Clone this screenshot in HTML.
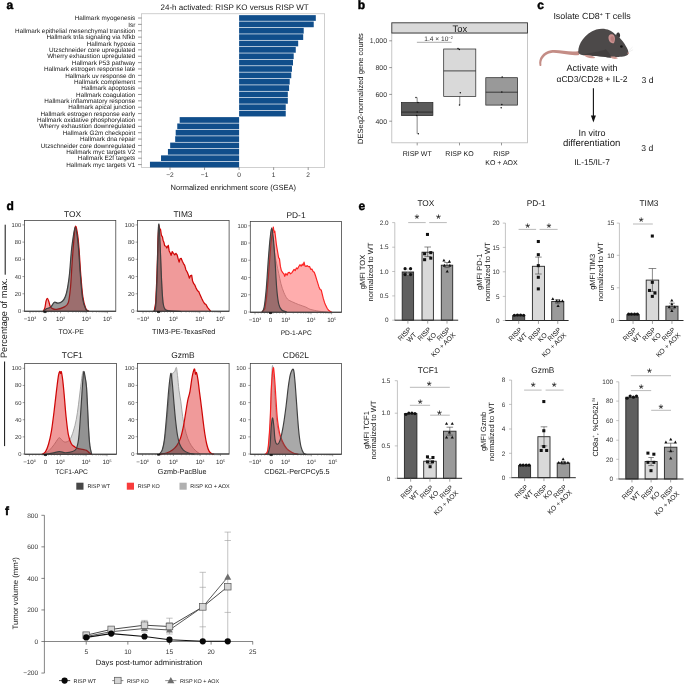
<!DOCTYPE html>
<html lang="en"><head><meta charset="utf-8"><title>Figure</title>
<style>
html,body{margin:0;padding:0;background:#fff;}
body{width:685px;height:684px;overflow:hidden;}
svg{display:block;font-family:'Liberation Sans', Arial, sans-serif;text-rendering:geometricPrecision;will-change:transform;transform:translateZ(0);}
</style></head><body>
<svg width="685" height="684" viewBox="0 0 685 684">
<rect x="0" y="0" width="685" height="684" fill="#fff"/>
<text x="9.80" y="8.90" font-size="12" text-anchor="middle" fill="#000" font-weight="bold" stroke="#000" stroke-width="0.45">a</text>
<rect x="141.60" y="13.80" width="183.10" height="153.60" fill="#fff" stroke="#b0b0b0" stroke-width="0.6"/>
<text x="135.30" y="20.15" font-size="6.35" text-anchor="end" fill="#161616" font-weight="normal">Hallmark myogenesis</text>
<line x1="138.00" y1="18.00" x2="141.60" y2="18.00" stroke="#333" stroke-width="0.5"/>
<rect x="239.10" y="15.15" width="76.70" height="5.70" fill="#104E8B" stroke="none" stroke-width="0.6"/>
<text x="135.30" y="26.52" font-size="6.35" text-anchor="end" fill="#161616" font-weight="normal">Isr</text>
<line x1="138.00" y1="24.37" x2="141.60" y2="24.37" stroke="#333" stroke-width="0.5"/>
<rect x="239.10" y="21.52" width="74.63" height="5.70" fill="#104E8B" stroke="none" stroke-width="0.6"/>
<text x="135.30" y="32.90" font-size="6.35" text-anchor="end" fill="#161616" font-weight="normal">Hallmark epithelial mesenchymal transition</text>
<line x1="138.00" y1="30.75" x2="141.60" y2="30.75" stroke="#333" stroke-width="0.5"/>
<rect x="239.10" y="27.90" width="64.61" height="5.70" fill="#104E8B" stroke="none" stroke-width="0.6"/>
<text x="135.30" y="39.27" font-size="6.35" text-anchor="end" fill="#161616" font-weight="normal">Hallmark tnfa signaling via Nfkb</text>
<line x1="138.00" y1="37.12" x2="141.60" y2="37.12" stroke="#333" stroke-width="0.5"/>
<rect x="239.10" y="34.27" width="64.09" height="5.70" fill="#104E8B" stroke="none" stroke-width="0.6"/>
<text x="135.30" y="45.64" font-size="6.35" text-anchor="end" fill="#161616" font-weight="normal">Hallmark hypoxia</text>
<line x1="138.00" y1="43.49" x2="141.60" y2="43.49" stroke="#333" stroke-width="0.5"/>
<rect x="239.10" y="40.64" width="59.08" height="5.70" fill="#104E8B" stroke="none" stroke-width="0.6"/>
<text x="135.30" y="52.02" font-size="6.35" text-anchor="end" fill="#161616" font-weight="normal">Utzschneider core upregulated</text>
<line x1="138.00" y1="49.87" x2="141.60" y2="49.87" stroke="#333" stroke-width="0.5"/>
<rect x="239.10" y="47.02" width="56.66" height="5.70" fill="#104E8B" stroke="none" stroke-width="0.6"/>
<text x="135.30" y="58.39" font-size="6.35" text-anchor="end" fill="#161616" font-weight="normal">Wherry exhaustion upregulated</text>
<line x1="138.00" y1="56.24" x2="141.60" y2="56.24" stroke="#333" stroke-width="0.5"/>
<rect x="239.10" y="53.39" width="54.59" height="5.70" fill="#104E8B" stroke="none" stroke-width="0.6"/>
<text x="135.30" y="64.76" font-size="6.35" text-anchor="end" fill="#161616" font-weight="normal">Hallmark P53 pathway</text>
<line x1="138.00" y1="62.61" x2="141.60" y2="62.61" stroke="#333" stroke-width="0.5"/>
<rect x="239.10" y="59.76" width="53.90" height="5.70" fill="#104E8B" stroke="none" stroke-width="0.6"/>
<text x="135.30" y="71.13" font-size="6.35" text-anchor="end" fill="#161616" font-weight="normal">Hallmark estrogen response late</text>
<line x1="138.00" y1="68.98" x2="141.60" y2="68.98" stroke="#333" stroke-width="0.5"/>
<rect x="239.10" y="66.13" width="52.86" height="5.70" fill="#104E8B" stroke="none" stroke-width="0.6"/>
<text x="135.30" y="77.51" font-size="6.35" text-anchor="end" fill="#161616" font-weight="normal">Hallmark uv response dn</text>
<line x1="138.00" y1="75.36" x2="141.60" y2="75.36" stroke="#333" stroke-width="0.5"/>
<rect x="239.10" y="72.51" width="52.17" height="5.70" fill="#104E8B" stroke="none" stroke-width="0.6"/>
<text x="135.30" y="83.88" font-size="6.35" text-anchor="end" fill="#161616" font-weight="normal">Hallmark complement</text>
<line x1="138.00" y1="81.73" x2="141.60" y2="81.73" stroke="#333" stroke-width="0.5"/>
<rect x="239.10" y="78.88" width="50.62" height="5.70" fill="#104E8B" stroke="none" stroke-width="0.6"/>
<text x="135.30" y="90.25" font-size="6.35" text-anchor="end" fill="#161616" font-weight="normal">Hallmark apoptosis</text>
<line x1="138.00" y1="88.10" x2="141.60" y2="88.10" stroke="#333" stroke-width="0.5"/>
<rect x="239.10" y="85.25" width="49.99" height="5.70" fill="#104E8B" stroke="none" stroke-width="0.6"/>
<text x="135.30" y="96.63" font-size="6.35" text-anchor="end" fill="#161616" font-weight="normal">Hallmark coagulation</text>
<line x1="138.00" y1="94.48" x2="141.60" y2="94.48" stroke="#333" stroke-width="0.5"/>
<rect x="239.10" y="91.63" width="48.72" height="5.70" fill="#104E8B" stroke="none" stroke-width="0.6"/>
<text x="135.30" y="103.00" font-size="6.35" text-anchor="end" fill="#161616" font-weight="normal">Hallmark inflammatory response</text>
<line x1="138.00" y1="100.85" x2="141.60" y2="100.85" stroke="#333" stroke-width="0.5"/>
<rect x="239.10" y="98.00" width="48.72" height="5.70" fill="#104E8B" stroke="none" stroke-width="0.6"/>
<text x="135.30" y="109.37" font-size="6.35" text-anchor="end" fill="#161616" font-weight="normal">Hallmark apical junction</text>
<line x1="138.00" y1="107.22" x2="141.60" y2="107.22" stroke="#333" stroke-width="0.5"/>
<rect x="239.10" y="104.37" width="46.64" height="5.70" fill="#104E8B" stroke="none" stroke-width="0.6"/>
<text x="135.30" y="115.75" font-size="6.35" text-anchor="end" fill="#161616" font-weight="normal">Hallmark estrogen response early</text>
<line x1="138.00" y1="113.59" x2="141.60" y2="113.59" stroke="#333" stroke-width="0.5"/>
<rect x="239.10" y="110.75" width="46.64" height="5.70" fill="#104E8B" stroke="none" stroke-width="0.6"/>
<text x="135.30" y="122.12" font-size="6.35" text-anchor="end" fill="#161616" font-weight="normal">Hallmark oxidative phosphorylation</text>
<line x1="138.00" y1="119.97" x2="141.60" y2="119.97" stroke="#333" stroke-width="0.5"/>
<rect x="179.67" y="117.12" width="59.43" height="5.70" fill="#104E8B" stroke="none" stroke-width="0.6"/>
<text x="135.30" y="128.49" font-size="6.35" text-anchor="end" fill="#161616" font-weight="normal">Wherry exhaustion downregulated</text>
<line x1="138.00" y1="126.34" x2="141.60" y2="126.34" stroke="#333" stroke-width="0.5"/>
<rect x="177.26" y="123.49" width="61.84" height="5.70" fill="#104E8B" stroke="none" stroke-width="0.6"/>
<text x="135.30" y="134.86" font-size="6.35" text-anchor="end" fill="#161616" font-weight="normal">Hallmark G2m checkpoint</text>
<line x1="138.00" y1="132.71" x2="141.60" y2="132.71" stroke="#333" stroke-width="0.5"/>
<rect x="175.70" y="129.86" width="63.40" height="5.70" fill="#104E8B" stroke="none" stroke-width="0.6"/>
<text x="135.30" y="141.24" font-size="6.35" text-anchor="end" fill="#161616" font-weight="normal">Hallmark dna repair</text>
<line x1="138.00" y1="139.09" x2="141.60" y2="139.09" stroke="#333" stroke-width="0.5"/>
<rect x="175.18" y="136.24" width="63.92" height="5.70" fill="#104E8B" stroke="none" stroke-width="0.6"/>
<text x="135.30" y="147.61" font-size="6.35" text-anchor="end" fill="#161616" font-weight="normal">Utzschneider core downregulated</text>
<line x1="138.00" y1="145.46" x2="141.60" y2="145.46" stroke="#333" stroke-width="0.5"/>
<rect x="170.17" y="142.61" width="68.93" height="5.70" fill="#104E8B" stroke="none" stroke-width="0.6"/>
<text x="135.30" y="153.98" font-size="6.35" text-anchor="end" fill="#161616" font-weight="normal">Hallmark myc targets V2</text>
<line x1="138.00" y1="151.83" x2="141.60" y2="151.83" stroke="#333" stroke-width="0.5"/>
<rect x="167.93" y="148.98" width="71.17" height="5.70" fill="#104E8B" stroke="none" stroke-width="0.6"/>
<text x="135.30" y="160.36" font-size="6.35" text-anchor="end" fill="#161616" font-weight="normal">Hallmark E2f targets</text>
<line x1="138.00" y1="158.21" x2="141.60" y2="158.21" stroke="#333" stroke-width="0.5"/>
<rect x="161.02" y="155.36" width="78.08" height="5.70" fill="#104E8B" stroke="none" stroke-width="0.6"/>
<text x="135.30" y="166.73" font-size="6.35" text-anchor="end" fill="#161616" font-weight="normal">Hallmark myc targets V1</text>
<line x1="138.00" y1="164.58" x2="141.60" y2="164.58" stroke="#333" stroke-width="0.5"/>
<rect x="149.96" y="161.73" width="89.14" height="5.70" fill="#104E8B" stroke="none" stroke-width="0.6"/>
<line x1="170.00" y1="167.40" x2="170.00" y2="170.00" stroke="#333" stroke-width="0.5"/>
<text x="170.00" y="177.40" font-size="6.6" text-anchor="middle" fill="#333" font-weight="normal">−2</text>
<line x1="204.55" y1="167.40" x2="204.55" y2="170.00" stroke="#333" stroke-width="0.5"/>
<text x="204.55" y="177.40" font-size="6.6" text-anchor="middle" fill="#333" font-weight="normal">−1</text>
<line x1="239.10" y1="167.40" x2="239.10" y2="170.00" stroke="#333" stroke-width="0.5"/>
<text x="239.10" y="177.40" font-size="6.6" text-anchor="middle" fill="#333" font-weight="normal">0</text>
<line x1="273.65" y1="167.40" x2="273.65" y2="170.00" stroke="#333" stroke-width="0.5"/>
<text x="273.65" y="177.40" font-size="6.6" text-anchor="middle" fill="#333" font-weight="normal">1</text>
<line x1="308.20" y1="167.40" x2="308.20" y2="170.00" stroke="#333" stroke-width="0.5"/>
<text x="308.20" y="177.40" font-size="6.6" text-anchor="middle" fill="#333" font-weight="normal">2</text>
<text x="234.60" y="9.60" font-size="8.0" text-anchor="middle" fill="#161616" font-weight="normal">24-h activated: RISP KO versus RISP WT</text>
<text x="233.30" y="189.60" font-size="7.5" text-anchor="middle" fill="#161616" font-weight="normal">Normalized enrichment score (GSEA)</text>
<text x="361.40" y="8.90" font-size="12" text-anchor="middle" fill="#000" font-weight="bold" stroke="#000" stroke-width="0.45">b</text>
<rect x="391.80" y="33.00" width="135.70" height="109.80" fill="#fff" stroke="#b8b8b8" stroke-width="0.8"/>
<rect x="391.80" y="22.80" width="135.70" height="10.20" fill="#D9D9D9" stroke="#333" stroke-width="0.9"/>
<text x="459.80" y="32.20" font-size="9.4" text-anchor="middle" fill="#161616" font-weight="normal">Tox</text>
<line x1="389.20" y1="40.80" x2="391.80" y2="40.80" stroke="#333" stroke-width="0.5"/>
<text x="387.00" y="43.20" font-size="6.9" text-anchor="end" fill="#333" font-weight="normal">1,000</text>
<line x1="389.20" y1="67.60" x2="391.80" y2="67.60" stroke="#333" stroke-width="0.5"/>
<text x="387.00" y="70.00" font-size="6.9" text-anchor="end" fill="#333" font-weight="normal">800</text>
<line x1="389.20" y1="94.40" x2="391.80" y2="94.40" stroke="#333" stroke-width="0.5"/>
<text x="387.00" y="96.80" font-size="6.9" text-anchor="end" fill="#333" font-weight="normal">600</text>
<line x1="389.20" y1="121.20" x2="391.80" y2="121.20" stroke="#333" stroke-width="0.5"/>
<text x="387.00" y="123.60" font-size="6.9" text-anchor="end" fill="#333" font-weight="normal">400</text>
<line x1="417.15" y1="97.50" x2="417.15" y2="133.70" stroke="#222" stroke-width="0.55"/>
<rect x="401.40" y="102.50" width="31.50" height="13.10" fill="#5b5b5b" stroke="#222" stroke-width="0.7"/>
<line x1="401.40" y1="112.10" x2="432.90" y2="112.10" stroke="#222" stroke-width="0.8"/>
<circle cx="416.00" cy="97.50" r="0.75" fill="#111"/>
<circle cx="418.00" cy="102.60" r="0.75" fill="#111"/>
<circle cx="417.20" cy="112.00" r="0.75" fill="#111"/>
<circle cx="416.60" cy="115.40" r="0.75" fill="#111"/>
<circle cx="418.30" cy="133.70" r="0.75" fill="#111"/>
<line x1="459.75" y1="49.00" x2="459.75" y2="105.10" stroke="#222" stroke-width="0.55"/>
<rect x="443.70" y="49.00" width="32.10" height="47.40" fill="#D9D9D9" stroke="#222" stroke-width="0.7"/>
<line x1="443.70" y1="70.90" x2="475.80" y2="70.90" stroke="#222" stroke-width="0.8"/>
<circle cx="458.00" cy="48.60" r="0.75" fill="#111"/>
<circle cx="459.30" cy="49.60" r="0.75" fill="#111"/>
<circle cx="460.30" cy="92.80" r="0.75" fill="#111"/>
<circle cx="459.50" cy="105.10" r="0.75" fill="#111"/>
<line x1="501.70" y1="77.70" x2="501.70" y2="105.10" stroke="#222" stroke-width="0.55"/>
<rect x="485.80" y="77.70" width="31.80" height="27.40" fill="#999999" stroke="#222" stroke-width="0.7"/>
<line x1="485.80" y1="92.20" x2="517.60" y2="92.20" stroke="#222" stroke-width="0.8"/>
<circle cx="502.20" cy="77.00" r="0.75" fill="#111"/>
<circle cx="501.80" cy="92.00" r="0.75" fill="#111"/>
<circle cx="501.80" cy="104.50" r="0.75" fill="#111"/>
<circle cx="501.20" cy="107.80" r="0.75" fill="#111"/>
<line x1="416.90" y1="42.30" x2="451.60" y2="42.30" stroke="#555" stroke-width="0.5"/>
<text x="438.6" y="40.8" font-size="6.6" text-anchor="middle" fill="#333">1.4 × 10<tspan dy="-2.2" font-size="4">−2</tspan></text>
<line x1="417.20" y1="142.80" x2="417.20" y2="145.40" stroke="#333" stroke-width="0.5"/>
<text x="417.20" y="156.00" font-size="7.0" text-anchor="middle" fill="#161616" font-weight="normal">RISP WT</text>
<line x1="459.50" y1="142.80" x2="459.50" y2="145.40" stroke="#333" stroke-width="0.5"/>
<text x="459.50" y="156.00" font-size="7.0" text-anchor="middle" fill="#161616" font-weight="normal">RISP KO</text>
<line x1="501.50" y1="142.80" x2="501.50" y2="145.40" stroke="#333" stroke-width="0.5"/>
<text x="501.50" y="156.00" font-size="7.0" text-anchor="middle" fill="#161616" font-weight="normal">RISP</text>
<text x="501.50" y="164.90" font-size="7.0" text-anchor="middle" fill="#161616" font-weight="normal">KO + AOX</text>
<text x="362.90" y="88.60" font-size="7.55" text-anchor="middle" fill="#161616" font-weight="normal" transform="rotate(-90 362.90 88.60)">DESeq2-normalized gene counts</text>
<text x="540.60" y="9.00" font-size="12" text-anchor="middle" fill="#000" font-weight="bold" stroke="#000" stroke-width="0.45">c</text>
<text x="592" y="19.4" font-size="8.9" text-anchor="middle" fill="#161616">Isolate CD8<tspan dy="-3" font-size="5.2">+</tspan><tspan dy="3"> T cells</tspan></text>
<text x="592.00" y="71.40" font-size="9.1" text-anchor="middle" fill="#161616" font-weight="normal">Activate with</text>
<text x="592.00" y="82.00" font-size="8.6" text-anchor="middle" fill="#161616" font-weight="normal">αCD3/CD28 + IL-2</text>
<text x="647.60" y="83.00" font-size="8.6" text-anchor="middle" fill="#161616" font-weight="normal">3 d</text>
<line x1="593.40" y1="88.30" x2="593.40" y2="117.00" stroke="#111" stroke-width="1.1"/>
<path d="M590.9 115.6 L595.9 115.6 L593.4 122.4 Z" fill="#111"/>
<text x="592.00" y="136.40" font-size="9.0" text-anchor="middle" fill="#161616" font-weight="normal">In vitro</text>
<text x="591.60" y="146.30" font-size="9.6" text-anchor="middle" fill="#161616" font-weight="normal">differentiation</text>
<text x="647.20" y="150.50" font-size="8.6" text-anchor="middle" fill="#161616" font-weight="normal">3 d</text>
<text x="592.00" y="165.20" font-size="8.3" text-anchor="middle" fill="#161616" font-weight="normal">IL-15/IL-7</text>
<g transform="translate(535 22) scale(0.14599)">
<path d="M302 198 C 240 212, 170 186, 108 194 C 55 202, 20 250, 31 298 C 33 304, 44 302, 44 296 C 38 256, 66 220, 112 212 C 170 206, 240 236, 302 226 Z" fill="#c48d86"/>
<path d="M556 100 C 552 78, 566 66, 576 74 C 586 84, 584 100, 578 108 Z" fill="#3b3838"/>
<path d="M296 206 C 296 150, 340 80, 420 52 C 470 36, 520 52, 548 84 C 580 100, 610 140, 630 178 C 640 196, 644 212, 636 224 C 624 236, 590 238, 560 240 C 530 246, 500 246, 470 236 C 420 232, 360 232, 330 228 C 308 224, 296 216, 296 206 Z" fill="#4c4949"/>
<path d="M330 226 C 380 206, 450 204, 484 186 C 504 204, 522 230, 522 243 C 480 240, 420 232, 330 226 Z" fill="#423f3f"/>
<path d="M508 128 C 494 96, 512 78, 534 86 C 552 96, 550 130, 540 146 C 528 146, 514 140, 508 128 Z" fill="#c9908f"/>
<path d="M520 124 C 512 104, 522 94, 534 98 C 544 106, 542 128, 536 138 C 528 136, 524 132, 520 124 Z" fill="#b87c7b"/>
<ellipse cx="592" cy="168" rx="9" ry="8" fill="#151313"/>
<ellipse cx="638" cy="214" rx="5" ry="7" fill="#c48d86"/>
<path d="M336 226 C 344 244, 380 252, 412 246 C 408 234, 372 226, 336 226 Z" fill="#cf9a93"/>
<path d="M516 238 C 526 254, 552 258, 568 248 C 558 238, 540 234, 516 238 Z" fill="#cf9a93"/>
<path d="M640 200 L 668 172 M 642 206 L 672 190" stroke="#ddd" stroke-width="3" fill="none"/>
</g>
<text x="10.10" y="209.90" font-size="12" text-anchor="middle" fill="#000" font-weight="bold" stroke="#000" stroke-width="0.45">d</text>
<line x1="5.20" y1="224.70" x2="5.20" y2="274.70" stroke="#111" stroke-width="1.0"/>
<line x1="4.60" y1="361.50" x2="4.60" y2="446.10" stroke="#111" stroke-width="1.0"/>
<text x="7.30" y="318.20" font-size="9.2" text-anchor="middle" fill="#161616" font-weight="normal" transform="rotate(-90 7.30 318.20)">Percentage of max.</text>
<rect x="24.40" y="220.60" width="91.40" height="90.90" fill="#fff" stroke="none" stroke-width="0.6"/>
<g transform="translate(20 215) scale(0.14620)" stroke-linejoin="round">
<path d="M160.0 660.0 C164.2 656.7 176.7 645.3 185.0 640.0 C193.3 634.7 201.7 634.7 210.0 628.0 C218.3 621.3 226.3 603.7 235.0 600.0 C243.7 596.3 252.5 607.3 262.0 606.0 C271.5 604.7 283.7 599.7 292.0 592.0 C300.3 584.3 306.0 575.3 312.0 560.0 C318.0 544.7 323.0 526.7 328.0 500.0 C333.0 473.3 337.7 441.7 342.0 400.0 C346.3 358.3 350.0 291.7 354.0 250.0 C358.0 208.3 361.8 177.7 366.0 150.0 C370.2 122.3 374.5 84.0 379.0 84.0 C383.5 84.0 389.0 122.3 393.0 150.0 C397.0 177.7 399.7 208.3 403.0 250.0 C406.3 291.7 408.7 346.7 413.0 400.0 C417.3 453.3 422.8 529.2 429.0 570.0 C435.2 610.8 443.2 630.2 450.0 645.0 C456.8 659.8 466.7 656.7 470.0 659.0 Z" fill="rgba(170,170,170,0.48)" stroke="none"/>
<path d="M160.0 660.0 C164.2 656.7 176.7 645.3 185.0 640.0 C193.3 634.7 201.7 634.7 210.0 628.0 C218.3 621.3 226.3 603.7 235.0 600.0 C243.7 596.3 252.5 607.3 262.0 606.0 C271.5 604.7 283.7 599.7 292.0 592.0 C300.3 584.3 306.0 575.3 312.0 560.0 C318.0 544.7 323.0 526.7 328.0 500.0 C333.0 473.3 337.7 441.7 342.0 400.0 C346.3 358.3 350.0 291.7 354.0 250.0 C358.0 208.3 361.8 177.7 366.0 150.0 C370.2 122.3 374.5 84.0 379.0 84.0 C383.5 84.0 389.0 122.3 393.0 150.0 C397.0 177.7 399.7 208.3 403.0 250.0 C406.3 291.7 408.7 346.7 413.0 400.0 C417.3 453.3 422.8 529.2 429.0 570.0 C435.2 610.8 443.2 630.2 450.0 645.0 C456.8 659.8 466.7 656.7 470.0 659.0" fill="none" stroke="#9c9c9c" stroke-width="6"/>
<path d="M158.0 660.0 C160.0 655.8 166.7 646.7 170.0 635.0 C173.3 623.3 175.2 600.8 178.0 590.0 C180.8 579.2 183.8 569.7 187.0 570.0 C190.2 570.3 193.7 582.8 197.0 592.0 C200.3 601.2 202.8 617.0 207.0 625.0 C211.2 633.0 214.8 636.7 222.0 640.0 C229.2 643.3 237.0 646.7 250.0 645.0 C263.0 643.3 286.7 637.5 300.0 630.0 C313.3 622.5 322.5 621.7 330.0 600.0 C337.5 578.3 340.8 541.7 345.0 500.0 C349.2 458.3 351.5 400.0 355.0 350.0 C358.5 300.0 362.0 245.3 366.0 200.0 C370.0 154.7 374.2 88.0 379.0 78.0 C383.8 68.0 390.7 111.3 395.0 140.0 C399.3 168.7 401.7 206.7 405.0 250.0 C408.3 293.3 410.8 348.3 415.0 400.0 C419.2 451.7 424.2 520.0 430.0 560.0 C435.8 600.0 443.0 623.5 450.0 640.0 C457.0 656.5 468.3 655.8 472.0 659.0 Z" fill="rgba(222,30,30,0.40)" stroke="none"/>
<path d="M158.0 660.0 C160.0 655.8 166.7 646.7 170.0 635.0 C173.3 623.3 175.2 600.8 178.0 590.0 C180.8 579.2 183.8 569.7 187.0 570.0 C190.2 570.3 193.7 582.8 197.0 592.0 C200.3 601.2 202.8 617.0 207.0 625.0 C211.2 633.0 214.8 636.7 222.0 640.0 C229.2 643.3 237.0 646.7 250.0 645.0 C263.0 643.3 286.7 637.5 300.0 630.0 C313.3 622.5 322.5 621.7 330.0 600.0 C337.5 578.3 340.8 541.7 345.0 500.0 C349.2 458.3 351.5 400.0 355.0 350.0 C358.5 300.0 362.0 245.3 366.0 200.0 C370.0 154.7 374.2 88.0 379.0 78.0 C383.8 68.0 390.7 111.3 395.0 140.0 C399.3 168.7 401.7 206.7 405.0 250.0 C408.3 293.3 410.8 348.3 415.0 400.0 C419.2 451.7 424.2 520.0 430.0 560.0 C435.8 600.0 443.0 623.5 450.0 640.0 C457.0 656.5 468.3 655.8 472.0 659.0" fill="none" stroke="#cf0606" stroke-width="8.5"/>
<path d="M160.0 660.0 C163.3 657.0 171.7 647.0 180.0 642.0 C188.3 637.0 200.8 637.5 210.0 630.0 C219.2 622.5 226.7 601.5 235.0 597.0 C243.3 592.5 250.8 604.2 260.0 603.0 C269.2 601.8 281.7 597.5 290.0 590.0 C298.3 582.5 304.2 573.3 310.0 558.0 C315.8 542.7 320.2 524.7 325.0 498.0 C329.8 471.3 334.7 439.3 339.0 398.0 C343.3 356.7 346.8 291.3 351.0 250.0 C355.2 208.7 359.5 178.0 364.0 150.0 C368.5 122.0 373.3 82.0 378.0 82.0 C382.7 82.0 388.0 122.0 392.0 150.0 C396.0 178.0 398.7 208.3 402.0 250.0 C405.3 291.7 407.7 346.7 412.0 400.0 C416.3 453.3 421.7 529.2 428.0 570.0 C434.3 610.8 443.0 630.2 450.0 645.0 C457.0 659.8 466.7 656.7 470.0 659.0 Z" fill="rgba(64,64,64,0.40)" stroke="none"/>
<path d="M160.0 660.0 C163.3 657.0 171.7 647.0 180.0 642.0 C188.3 637.0 200.8 637.5 210.0 630.0 C219.2 622.5 226.7 601.5 235.0 597.0 C243.3 592.5 250.8 604.2 260.0 603.0 C269.2 601.8 281.7 597.5 290.0 590.0 C298.3 582.5 304.2 573.3 310.0 558.0 C315.8 542.7 320.2 524.7 325.0 498.0 C329.8 471.3 334.7 439.3 339.0 398.0 C343.3 356.7 346.8 291.3 351.0 250.0 C355.2 208.7 359.5 178.0 364.0 150.0 C368.5 122.0 373.3 82.0 378.0 82.0 C382.7 82.0 388.0 122.0 392.0 150.0 C396.0 178.0 398.7 208.3 402.0 250.0 C405.3 291.7 407.7 346.7 412.0 400.0 C416.3 453.3 421.7 529.2 428.0 570.0 C434.3 610.8 443.0 630.2 450.0 645.0 C457.0 659.8 466.7 656.7 470.0 659.0" fill="none" stroke="#404040" stroke-width="8"/>
</g>
<rect x="24.40" y="220.60" width="91.40" height="90.90" fill="none" stroke="#3a3a3a" stroke-width="0.75"/>
<line x1="24.40" y1="311.10" x2="115.80" y2="311.10" stroke="#333" stroke-width="0.9"/>
<line x1="22.40" y1="311.00" x2="24.40" y2="311.00" stroke="#444" stroke-width="0.5"/>
<text x="21.20" y="313.00" font-size="5.8" text-anchor="end" fill="#333" font-weight="normal">0</text>
<line x1="22.40" y1="293.78" x2="24.40" y2="293.78" stroke="#444" stroke-width="0.5"/>
<text x="21.20" y="295.78" font-size="5.8" text-anchor="end" fill="#333" font-weight="normal">20</text>
<line x1="22.40" y1="276.56" x2="24.40" y2="276.56" stroke="#444" stroke-width="0.5"/>
<text x="21.20" y="278.56" font-size="5.8" text-anchor="end" fill="#333" font-weight="normal">40</text>
<line x1="22.40" y1="259.34" x2="24.40" y2="259.34" stroke="#444" stroke-width="0.5"/>
<text x="21.20" y="261.34" font-size="5.8" text-anchor="end" fill="#333" font-weight="normal">60</text>
<line x1="22.40" y1="242.12" x2="24.40" y2="242.12" stroke="#444" stroke-width="0.5"/>
<text x="21.20" y="244.12" font-size="5.8" text-anchor="end" fill="#333" font-weight="normal">80</text>
<line x1="22.40" y1="224.90" x2="24.40" y2="224.90" stroke="#444" stroke-width="0.5"/>
<text x="21.20" y="226.90" font-size="5.8" text-anchor="end" fill="#333" font-weight="normal">100</text>
<text x="30.00" y="321.30" font-size="6.2" text-anchor="middle" fill="#2a2a2a">−10<tspan dy="-2.1" font-size="3.6">3</tspan></text>
<text x="45.00" y="321.30" font-size="6.2" text-anchor="middle" fill="#2a2a2a" font-weight="normal">0</text>
<text x="60.50" y="321.30" font-size="6.2" text-anchor="middle" fill="#2a2a2a">10<tspan dy="-2.1" font-size="3.6">3</tspan></text>
<text x="86.30" y="321.30" font-size="6.2" text-anchor="middle" fill="#2a2a2a">10<tspan dy="-2.1" font-size="3.6">4</tspan></text>
<text x="107.50" y="321.30" font-size="6.2" text-anchor="middle" fill="#2a2a2a">10<tspan dy="-2.1" font-size="3.6">5</tspan></text>
<line x1="30.00" y1="311.50" x2="30.00" y2="313.30" stroke="#444" stroke-width="0.5"/>
<line x1="45.00" y1="311.50" x2="45.00" y2="313.30" stroke="#444" stroke-width="0.5"/>
<line x1="60.50" y1="311.50" x2="60.50" y2="313.30" stroke="#444" stroke-width="0.5"/>
<line x1="86.30" y1="311.50" x2="86.30" y2="313.30" stroke="#444" stroke-width="0.5"/>
<line x1="107.50" y1="311.50" x2="107.50" y2="313.30" stroke="#444" stroke-width="0.5"/>
<line x1="68.27" y1="311.50" x2="68.27" y2="312.60" stroke="#444" stroke-width="0.4"/>
<line x1="72.81" y1="311.50" x2="72.81" y2="312.60" stroke="#444" stroke-width="0.4"/>
<line x1="76.03" y1="311.50" x2="76.03" y2="312.60" stroke="#444" stroke-width="0.4"/>
<line x1="78.53" y1="311.50" x2="78.53" y2="312.60" stroke="#444" stroke-width="0.4"/>
<line x1="80.58" y1="311.50" x2="80.58" y2="312.60" stroke="#444" stroke-width="0.4"/>
<line x1="82.30" y1="311.50" x2="82.30" y2="312.60" stroke="#444" stroke-width="0.4"/>
<line x1="83.80" y1="311.50" x2="83.80" y2="312.60" stroke="#444" stroke-width="0.4"/>
<line x1="85.12" y1="311.50" x2="85.12" y2="312.60" stroke="#444" stroke-width="0.4"/>
<line x1="92.68" y1="311.50" x2="92.68" y2="312.60" stroke="#444" stroke-width="0.4"/>
<line x1="96.41" y1="311.50" x2="96.41" y2="312.60" stroke="#444" stroke-width="0.4"/>
<line x1="99.06" y1="311.50" x2="99.06" y2="312.60" stroke="#444" stroke-width="0.4"/>
<line x1="101.12" y1="311.50" x2="101.12" y2="312.60" stroke="#444" stroke-width="0.4"/>
<line x1="102.80" y1="311.50" x2="102.80" y2="312.60" stroke="#444" stroke-width="0.4"/>
<line x1="104.22" y1="311.50" x2="104.22" y2="312.60" stroke="#444" stroke-width="0.4"/>
<line x1="105.45" y1="311.50" x2="105.45" y2="312.60" stroke="#444" stroke-width="0.4"/>
<line x1="106.53" y1="311.50" x2="106.53" y2="312.60" stroke="#444" stroke-width="0.4"/>
<line x1="48.10" y1="311.50" x2="48.10" y2="312.60" stroke="#444" stroke-width="0.4"/>
<line x1="42.00" y1="311.50" x2="42.00" y2="312.60" stroke="#444" stroke-width="0.4"/>
<line x1="51.20" y1="311.50" x2="51.20" y2="312.60" stroke="#444" stroke-width="0.4"/>
<line x1="39.00" y1="311.50" x2="39.00" y2="312.60" stroke="#444" stroke-width="0.4"/>
<line x1="54.30" y1="311.50" x2="54.30" y2="312.60" stroke="#444" stroke-width="0.4"/>
<line x1="36.00" y1="311.50" x2="36.00" y2="312.60" stroke="#444" stroke-width="0.4"/>
<line x1="57.40" y1="311.50" x2="57.40" y2="312.60" stroke="#444" stroke-width="0.4"/>
<line x1="33.00" y1="311.50" x2="33.00" y2="312.60" stroke="#444" stroke-width="0.4"/>
<rect x="43.40" y="311.20" width="3.20" height="1.60" fill="#111" stroke="none" stroke-width="0.6"/>
<text x="72.50" y="217.30" font-size="8.4" text-anchor="middle" fill="#161616" font-weight="normal">TOX</text>
<text x="71.10" y="334.10" font-size="6.85" text-anchor="middle" fill="#161616" font-weight="normal">TOX-PE</text>
<rect x="137.60" y="220.60" width="91.50" height="90.90" fill="#fff" stroke="none" stroke-width="0.6"/>
<g transform="translate(130 215) scale(0.14620)" stroke-linejoin="round">
<path d="M160.0 660.0 C162.3 654.2 170.0 665.0 174.0 625.0 C178.0 585.0 180.7 511.8 184.0 420.0 C187.3 328.2 190.5 112.3 194.0 74.0 C197.5 35.7 201.3 129.0 205.0 190.0 C208.7 251.0 212.5 372.5 216.0 440.0 C219.5 507.5 222.0 561.7 226.0 595.0 C230.0 628.3 232.7 630.2 240.0 640.0 C247.3 649.8 251.7 650.7 270.0 654.0 C288.3 657.3 336.7 659.0 350.0 660.0 Z" fill="rgba(170,170,170,0.48)" stroke="none"/>
<path d="M160.0 660.0 C162.3 654.2 170.0 665.0 174.0 625.0 C178.0 585.0 180.7 511.8 184.0 420.0 C187.3 328.2 190.5 112.3 194.0 74.0 C197.5 35.7 201.3 129.0 205.0 190.0 C208.7 251.0 212.5 372.5 216.0 440.0 C219.5 507.5 222.0 561.7 226.0 595.0 C230.0 628.3 232.7 630.2 240.0 640.0 C247.3 649.8 251.7 650.7 270.0 654.0 C288.3 657.3 336.7 659.0 350.0 660.0" fill="none" stroke="#9c9c9c" stroke-width="6"/>
<path d="M165.0 660.0 L176.0 600.0 L185.0 400.0 L192.0 160.0 L197.0 72.0 L203.0 92.0 L209.0 100.0 L215.0 140.0 L222.0 150.0 L226.0 172.0 L233.0 190.0 L237.0 210.0 L246.0 214.0 L252.0 226.0 L262.0 208.0 L268.0 246.0 L276.0 262.0 L281.0 276.0 L289.0 250.0 L297.0 262.0 L306.0 272.0 L314.0 262.0 L322.0 272.0 L330.0 302.0 L336.0 322.0 L342.0 300.0 L350.0 296.0 L358.0 316.0 L366.0 332.0 L374.0 344.0 L382.0 374.0 L392.0 392.0 L400.0 412.0 L406.0 432.0 L414.0 414.0 L422.0 412.0 L428.0 452.0 L436.0 470.0 L444.0 480.0 L452.0 500.0 L462.0 518.0 L470.0 524.0 L480.0 548.0 L490.0 570.0 L500.0 590.0 L510.0 606.0 L520.0 612.0 L530.0 632.0 L540.0 644.0 L552.0 659.0 Z" fill="rgba(222,30,30,0.45)" stroke="none"/>
<path d="M165.0 660.0 L176.0 600.0 L185.0 400.0 L192.0 160.0 L197.0 72.0 L203.0 92.0 L209.0 100.0 L215.0 140.0 L222.0 150.0 L226.0 172.0 L233.0 190.0 L237.0 210.0 L246.0 214.0 L252.0 226.0 L262.0 208.0 L268.0 246.0 L276.0 262.0 L281.0 276.0 L289.0 250.0 L297.0 262.0 L306.0 272.0 L314.0 262.0 L322.0 272.0 L330.0 302.0 L336.0 322.0 L342.0 300.0 L350.0 296.0 L358.0 316.0 L366.0 332.0 L374.0 344.0 L382.0 374.0 L392.0 392.0 L400.0 412.0 L406.0 432.0 L414.0 414.0 L422.0 412.0 L428.0 452.0 L436.0 470.0 L444.0 480.0 L452.0 500.0 L462.0 518.0 L470.0 524.0 L480.0 548.0 L490.0 570.0 L500.0 590.0 L510.0 606.0 L520.0 612.0 L530.0 632.0 L540.0 644.0 L552.0 659.0" fill="none" stroke="#cf0606" stroke-width="8.5"/>
<path d="M162.0 660.0 C164.3 653.3 172.0 663.3 176.0 620.0 C180.0 576.7 182.7 492.0 186.0 400.0 C189.3 308.0 192.7 101.3 196.0 68.0 C199.3 34.7 202.7 136.3 206.0 200.0 C209.3 263.7 212.7 383.3 216.0 450.0 C219.3 516.7 222.0 567.5 226.0 600.0 C230.0 632.5 232.7 635.7 240.0 645.0 C247.3 654.3 251.7 653.5 270.0 656.0 C288.3 658.5 336.7 659.3 350.0 660.0 Z" fill="rgba(64,64,64,0.45)" stroke="none"/>
<path d="M162.0 660.0 C164.3 653.3 172.0 663.3 176.0 620.0 C180.0 576.7 182.7 492.0 186.0 400.0 C189.3 308.0 192.7 101.3 196.0 68.0 C199.3 34.7 202.7 136.3 206.0 200.0 C209.3 263.7 212.7 383.3 216.0 450.0 C219.3 516.7 222.0 567.5 226.0 600.0 C230.0 632.5 232.7 635.7 240.0 645.0 C247.3 654.3 251.7 653.5 270.0 656.0 C288.3 658.5 336.7 659.3 350.0 660.0" fill="none" stroke="#404040" stroke-width="8"/>
</g>
<rect x="137.60" y="220.60" width="91.50" height="90.90" fill="none" stroke="#3a3a3a" stroke-width="0.75"/>
<line x1="137.60" y1="311.10" x2="229.10" y2="311.10" stroke="#333" stroke-width="0.9"/>
<line x1="135.60" y1="311.00" x2="137.60" y2="311.00" stroke="#444" stroke-width="0.5"/>
<text x="134.40" y="313.00" font-size="5.8" text-anchor="end" fill="#333" font-weight="normal">0</text>
<line x1="135.60" y1="293.78" x2="137.60" y2="293.78" stroke="#444" stroke-width="0.5"/>
<text x="134.40" y="295.78" font-size="5.8" text-anchor="end" fill="#333" font-weight="normal">20</text>
<line x1="135.60" y1="276.56" x2="137.60" y2="276.56" stroke="#444" stroke-width="0.5"/>
<text x="134.40" y="278.56" font-size="5.8" text-anchor="end" fill="#333" font-weight="normal">40</text>
<line x1="135.60" y1="259.34" x2="137.60" y2="259.34" stroke="#444" stroke-width="0.5"/>
<text x="134.40" y="261.34" font-size="5.8" text-anchor="end" fill="#333" font-weight="normal">60</text>
<line x1="135.60" y1="242.12" x2="137.60" y2="242.12" stroke="#444" stroke-width="0.5"/>
<text x="134.40" y="244.12" font-size="5.8" text-anchor="end" fill="#333" font-weight="normal">80</text>
<line x1="135.60" y1="224.90" x2="137.60" y2="224.90" stroke="#444" stroke-width="0.5"/>
<text x="134.40" y="226.90" font-size="5.8" text-anchor="end" fill="#333" font-weight="normal">100</text>
<text x="143.00" y="321.30" font-size="6.2" text-anchor="middle" fill="#2a2a2a">−10<tspan dy="-2.1" font-size="3.6">3</tspan></text>
<text x="158.60" y="321.30" font-size="6.2" text-anchor="middle" fill="#2a2a2a" font-weight="normal">0</text>
<text x="173.40" y="321.30" font-size="6.2" text-anchor="middle" fill="#2a2a2a">10<tspan dy="-2.1" font-size="3.6">3</tspan></text>
<text x="199.80" y="321.30" font-size="6.2" text-anchor="middle" fill="#2a2a2a">10<tspan dy="-2.1" font-size="3.6">4</tspan></text>
<text x="220.50" y="321.30" font-size="6.2" text-anchor="middle" fill="#2a2a2a">10<tspan dy="-2.1" font-size="3.6">5</tspan></text>
<line x1="143.00" y1="311.50" x2="143.00" y2="313.30" stroke="#444" stroke-width="0.5"/>
<line x1="158.60" y1="311.50" x2="158.60" y2="313.30" stroke="#444" stroke-width="0.5"/>
<line x1="173.40" y1="311.50" x2="173.40" y2="313.30" stroke="#444" stroke-width="0.5"/>
<line x1="199.80" y1="311.50" x2="199.80" y2="313.30" stroke="#444" stroke-width="0.5"/>
<line x1="220.50" y1="311.50" x2="220.50" y2="313.30" stroke="#444" stroke-width="0.5"/>
<line x1="181.35" y1="311.50" x2="181.35" y2="312.60" stroke="#444" stroke-width="0.4"/>
<line x1="186.00" y1="311.50" x2="186.00" y2="312.60" stroke="#444" stroke-width="0.4"/>
<line x1="189.29" y1="311.50" x2="189.29" y2="312.60" stroke="#444" stroke-width="0.4"/>
<line x1="191.85" y1="311.50" x2="191.85" y2="312.60" stroke="#444" stroke-width="0.4"/>
<line x1="193.94" y1="311.50" x2="193.94" y2="312.60" stroke="#444" stroke-width="0.4"/>
<line x1="195.71" y1="311.50" x2="195.71" y2="312.60" stroke="#444" stroke-width="0.4"/>
<line x1="197.24" y1="311.50" x2="197.24" y2="312.60" stroke="#444" stroke-width="0.4"/>
<line x1="198.59" y1="311.50" x2="198.59" y2="312.60" stroke="#444" stroke-width="0.4"/>
<line x1="206.03" y1="311.50" x2="206.03" y2="312.60" stroke="#444" stroke-width="0.4"/>
<line x1="209.68" y1="311.50" x2="209.68" y2="312.60" stroke="#444" stroke-width="0.4"/>
<line x1="212.26" y1="311.50" x2="212.26" y2="312.60" stroke="#444" stroke-width="0.4"/>
<line x1="214.27" y1="311.50" x2="214.27" y2="312.60" stroke="#444" stroke-width="0.4"/>
<line x1="215.91" y1="311.50" x2="215.91" y2="312.60" stroke="#444" stroke-width="0.4"/>
<line x1="217.29" y1="311.50" x2="217.29" y2="312.60" stroke="#444" stroke-width="0.4"/>
<line x1="218.49" y1="311.50" x2="218.49" y2="312.60" stroke="#444" stroke-width="0.4"/>
<line x1="219.55" y1="311.50" x2="219.55" y2="312.60" stroke="#444" stroke-width="0.4"/>
<line x1="161.56" y1="311.50" x2="161.56" y2="312.60" stroke="#444" stroke-width="0.4"/>
<line x1="155.48" y1="311.50" x2="155.48" y2="312.60" stroke="#444" stroke-width="0.4"/>
<line x1="164.52" y1="311.50" x2="164.52" y2="312.60" stroke="#444" stroke-width="0.4"/>
<line x1="152.36" y1="311.50" x2="152.36" y2="312.60" stroke="#444" stroke-width="0.4"/>
<line x1="167.48" y1="311.50" x2="167.48" y2="312.60" stroke="#444" stroke-width="0.4"/>
<line x1="149.24" y1="311.50" x2="149.24" y2="312.60" stroke="#444" stroke-width="0.4"/>
<line x1="170.44" y1="311.50" x2="170.44" y2="312.60" stroke="#444" stroke-width="0.4"/>
<line x1="146.12" y1="311.50" x2="146.12" y2="312.60" stroke="#444" stroke-width="0.4"/>
<rect x="157.00" y="311.20" width="3.20" height="1.60" fill="#111" stroke="none" stroke-width="0.6"/>
<text x="183.00" y="217.30" font-size="8.4" text-anchor="middle" fill="#161616" font-weight="normal">TIM3</text>
<text x="183.60" y="334.10" font-size="7.25" text-anchor="middle" fill="#161616" font-weight="normal">TIM3-PE-TexasRed</text>
<rect x="250.30" y="221.60" width="91.30" height="90.90" fill="#fff" stroke="none" stroke-width="0.6"/>
<g transform="translate(240 215) scale(0.14620)" stroke-linejoin="round">
<path d="M150.0 665.0 C153.7 655.8 166.0 642.5 172.0 610.0 C178.0 577.5 181.7 521.7 186.0 470.0 C190.3 418.3 194.3 351.7 198.0 300.0 C201.7 248.3 205.0 194.0 208.0 160.0 C211.0 126.0 213.0 94.3 216.0 96.0 C219.0 97.7 222.7 143.5 226.0 170.0 C229.3 196.5 232.0 228.3 236.0 255.0 C240.0 281.7 245.2 305.8 250.0 330.0 C254.8 354.2 260.0 376.7 265.0 400.0 C270.0 423.3 274.2 448.3 280.0 470.0 C285.8 491.7 292.5 512.5 300.0 530.0 C307.5 547.5 315.0 564.2 325.0 575.0 C335.0 585.8 347.5 588.8 360.0 595.0 C372.5 601.2 385.0 606.2 400.0 612.0 C415.0 617.8 436.7 624.5 450.0 630.0 C463.3 635.5 465.0 640.3 480.0 645.0 C495.0 649.7 520.0 654.7 540.0 658.0 C560.0 661.3 590.0 663.8 600.0 665.0 Z" fill="rgba(170,170,170,0.48)" stroke="none"/>
<path d="M150.0 665.0 C153.7 655.8 166.0 642.5 172.0 610.0 C178.0 577.5 181.7 521.7 186.0 470.0 C190.3 418.3 194.3 351.7 198.0 300.0 C201.7 248.3 205.0 194.0 208.0 160.0 C211.0 126.0 213.0 94.3 216.0 96.0 C219.0 97.7 222.7 143.5 226.0 170.0 C229.3 196.5 232.0 228.3 236.0 255.0 C240.0 281.7 245.2 305.8 250.0 330.0 C254.8 354.2 260.0 376.7 265.0 400.0 C270.0 423.3 274.2 448.3 280.0 470.0 C285.8 491.7 292.5 512.5 300.0 530.0 C307.5 547.5 315.0 564.2 325.0 575.0 C335.0 585.8 347.5 588.8 360.0 595.0 C372.5 601.2 385.0 606.2 400.0 612.0 C415.0 617.8 436.7 624.5 450.0 630.0 C463.3 635.5 465.0 640.3 480.0 645.0 C495.0 649.7 520.0 654.7 540.0 658.0 C560.0 661.3 590.0 663.8 600.0 665.0" fill="none" stroke="#9c9c9c" stroke-width="6"/>
<path d="M150.0 665.0 L170.0 642.0 L182.0 560.0 L192.0 450.0 L202.0 320.0 L212.0 190.0 L222.0 110.0 L228.0 82.0 L233.0 120.0 L238.0 110.0 L244.0 160.0 L250.0 210.0 L257.0 250.0 L264.0 292.0 L270.0 300.0 L276.0 350.0 L283.0 380.0 L292.0 394.0 L300.0 402.0 L306.0 420.0 L314.0 400.0 L322.0 412.0 L330.0 394.0 L338.0 392.0 L346.0 402.0 L354.0 396.0 L362.0 384.0 L370.0 372.0 L378.0 380.0 L386.0 362.0 L394.0 368.0 L402.0 352.0 L410.0 340.0 L418.0 350.0 L426.0 336.0 L432.0 344.0 L438.0 322.0 L444.0 348.0 L452.0 352.0 L460.0 346.0 L468.0 354.0 L476.0 352.0 L484.0 372.0 L492.0 370.0 L500.0 386.0 L508.0 392.0 L516.0 414.0 L524.0 440.0 L532.0 466.0 L540.0 492.0 L548.0 510.0 L556.0 514.0 L562.0 540.0 L570.0 572.0 L578.0 598.0 L586.0 618.0 L596.0 638.0 L606.0 652.0 L618.0 660.0 L628.0 665.0 Z" fill="rgba(255,40,40,0.38)" stroke="none"/>
<path d="M150.0 665.0 L170.0 642.0 L182.0 560.0 L192.0 450.0 L202.0 320.0 L212.0 190.0 L222.0 110.0 L228.0 82.0 L233.0 120.0 L238.0 110.0 L244.0 160.0 L250.0 210.0 L257.0 250.0 L264.0 292.0 L270.0 300.0 L276.0 350.0 L283.0 380.0 L292.0 394.0 L300.0 402.0 L306.0 420.0 L314.0 400.0 L322.0 412.0 L330.0 394.0 L338.0 392.0 L346.0 402.0 L354.0 396.0 L362.0 384.0 L370.0 372.0 L378.0 380.0 L386.0 362.0 L394.0 368.0 L402.0 352.0 L410.0 340.0 L418.0 350.0 L426.0 336.0 L432.0 344.0 L438.0 322.0 L444.0 348.0 L452.0 352.0 L460.0 346.0 L468.0 354.0 L476.0 352.0 L484.0 372.0 L492.0 370.0 L500.0 386.0 L508.0 392.0 L516.0 414.0 L524.0 440.0 L532.0 466.0 L540.0 492.0 L548.0 510.0 L556.0 514.0 L562.0 540.0 L570.0 572.0 L578.0 598.0 L586.0 618.0 L596.0 638.0 L606.0 652.0 L618.0 660.0 L628.0 665.0" fill="none" stroke="#fb2222" stroke-width="8"/>
<path d="M150.0 665.0 C152.5 659.5 160.0 659.5 165.0 632.0 C170.0 604.5 175.2 555.3 180.0 500.0 C184.8 444.7 189.8 355.0 194.0 300.0 C198.2 245.0 201.2 205.3 205.0 170.0 C208.8 134.7 213.0 88.0 217.0 88.0 C221.0 88.0 225.3 134.7 229.0 170.0 C232.7 205.3 235.3 245.0 239.0 300.0 C242.7 355.0 246.7 448.3 251.0 500.0 C255.3 551.7 259.3 585.0 265.0 610.0 C270.7 635.0 275.8 641.3 285.0 650.0 C294.2 658.7 314.2 660.0 320.0 662.0 Z" fill="rgba(64,64,64,0.45)" stroke="none"/>
<path d="M150.0 665.0 C152.5 659.5 160.0 659.5 165.0 632.0 C170.0 604.5 175.2 555.3 180.0 500.0 C184.8 444.7 189.8 355.0 194.0 300.0 C198.2 245.0 201.2 205.3 205.0 170.0 C208.8 134.7 213.0 88.0 217.0 88.0 C221.0 88.0 225.3 134.7 229.0 170.0 C232.7 205.3 235.3 245.0 239.0 300.0 C242.7 355.0 246.7 448.3 251.0 500.0 C255.3 551.7 259.3 585.0 265.0 610.0 C270.7 635.0 275.8 641.3 285.0 650.0 C294.2 658.7 314.2 660.0 320.0 662.0" fill="none" stroke="#404040" stroke-width="8"/>
</g>
<rect x="250.30" y="221.60" width="91.30" height="90.90" fill="none" stroke="#3a3a3a" stroke-width="0.75"/>
<line x1="250.30" y1="312.10" x2="341.60" y2="312.10" stroke="#333" stroke-width="0.9"/>
<line x1="248.30" y1="312.00" x2="250.30" y2="312.00" stroke="#444" stroke-width="0.5"/>
<text x="247.10" y="314.00" font-size="5.8" text-anchor="end" fill="#333" font-weight="normal">0</text>
<line x1="248.30" y1="294.76" x2="250.30" y2="294.76" stroke="#444" stroke-width="0.5"/>
<text x="247.10" y="296.76" font-size="5.8" text-anchor="end" fill="#333" font-weight="normal">20</text>
<line x1="248.30" y1="277.52" x2="250.30" y2="277.52" stroke="#444" stroke-width="0.5"/>
<text x="247.10" y="279.52" font-size="5.8" text-anchor="end" fill="#333" font-weight="normal">40</text>
<line x1="248.30" y1="260.28" x2="250.30" y2="260.28" stroke="#444" stroke-width="0.5"/>
<text x="247.10" y="262.28" font-size="5.8" text-anchor="end" fill="#333" font-weight="normal">60</text>
<line x1="248.30" y1="243.04" x2="250.30" y2="243.04" stroke="#444" stroke-width="0.5"/>
<text x="247.10" y="245.04" font-size="5.8" text-anchor="end" fill="#333" font-weight="normal">80</text>
<line x1="248.30" y1="225.80" x2="250.30" y2="225.80" stroke="#444" stroke-width="0.5"/>
<text x="247.10" y="227.80" font-size="5.8" text-anchor="end" fill="#333" font-weight="normal">100</text>
<text x="255.00" y="321.60" font-size="6.2" text-anchor="middle" fill="#2a2a2a">−10<tspan dy="-2.1" font-size="3.6">3</tspan></text>
<text x="270.60" y="321.60" font-size="6.2" text-anchor="middle" fill="#2a2a2a" font-weight="normal">0</text>
<text x="285.70" y="321.60" font-size="6.2" text-anchor="middle" fill="#2a2a2a">10<tspan dy="-2.1" font-size="3.6">3</tspan></text>
<text x="311.00" y="321.60" font-size="6.2" text-anchor="middle" fill="#2a2a2a">10<tspan dy="-2.1" font-size="3.6">4</tspan></text>
<text x="331.60" y="321.60" font-size="6.2" text-anchor="middle" fill="#2a2a2a">10<tspan dy="-2.1" font-size="3.6">5</tspan></text>
<line x1="255.00" y1="312.50" x2="255.00" y2="314.30" stroke="#444" stroke-width="0.5"/>
<line x1="270.60" y1="312.50" x2="270.60" y2="314.30" stroke="#444" stroke-width="0.5"/>
<line x1="285.70" y1="312.50" x2="285.70" y2="314.30" stroke="#444" stroke-width="0.5"/>
<line x1="311.00" y1="312.50" x2="311.00" y2="314.30" stroke="#444" stroke-width="0.5"/>
<line x1="331.60" y1="312.50" x2="331.60" y2="314.30" stroke="#444" stroke-width="0.5"/>
<line x1="293.32" y1="312.50" x2="293.32" y2="313.60" stroke="#444" stroke-width="0.4"/>
<line x1="297.77" y1="312.50" x2="297.77" y2="313.60" stroke="#444" stroke-width="0.4"/>
<line x1="300.93" y1="312.50" x2="300.93" y2="313.60" stroke="#444" stroke-width="0.4"/>
<line x1="303.38" y1="312.50" x2="303.38" y2="313.60" stroke="#444" stroke-width="0.4"/>
<line x1="305.39" y1="312.50" x2="305.39" y2="313.60" stroke="#444" stroke-width="0.4"/>
<line x1="307.08" y1="312.50" x2="307.08" y2="313.60" stroke="#444" stroke-width="0.4"/>
<line x1="308.55" y1="312.50" x2="308.55" y2="313.60" stroke="#444" stroke-width="0.4"/>
<line x1="309.84" y1="312.50" x2="309.84" y2="313.60" stroke="#444" stroke-width="0.4"/>
<line x1="317.20" y1="312.50" x2="317.20" y2="313.60" stroke="#444" stroke-width="0.4"/>
<line x1="320.83" y1="312.50" x2="320.83" y2="313.60" stroke="#444" stroke-width="0.4"/>
<line x1="323.40" y1="312.50" x2="323.40" y2="313.60" stroke="#444" stroke-width="0.4"/>
<line x1="325.40" y1="312.50" x2="325.40" y2="313.60" stroke="#444" stroke-width="0.4"/>
<line x1="327.03" y1="312.50" x2="327.03" y2="313.60" stroke="#444" stroke-width="0.4"/>
<line x1="328.41" y1="312.50" x2="328.41" y2="313.60" stroke="#444" stroke-width="0.4"/>
<line x1="329.60" y1="312.50" x2="329.60" y2="313.60" stroke="#444" stroke-width="0.4"/>
<line x1="330.66" y1="312.50" x2="330.66" y2="313.60" stroke="#444" stroke-width="0.4"/>
<line x1="273.62" y1="312.50" x2="273.62" y2="313.60" stroke="#444" stroke-width="0.4"/>
<line x1="267.48" y1="312.50" x2="267.48" y2="313.60" stroke="#444" stroke-width="0.4"/>
<line x1="276.64" y1="312.50" x2="276.64" y2="313.60" stroke="#444" stroke-width="0.4"/>
<line x1="264.36" y1="312.50" x2="264.36" y2="313.60" stroke="#444" stroke-width="0.4"/>
<line x1="279.66" y1="312.50" x2="279.66" y2="313.60" stroke="#444" stroke-width="0.4"/>
<line x1="261.24" y1="312.50" x2="261.24" y2="313.60" stroke="#444" stroke-width="0.4"/>
<line x1="282.68" y1="312.50" x2="282.68" y2="313.60" stroke="#444" stroke-width="0.4"/>
<line x1="258.12" y1="312.50" x2="258.12" y2="313.60" stroke="#444" stroke-width="0.4"/>
<rect x="269.00" y="312.20" width="3.20" height="1.60" fill="#111" stroke="none" stroke-width="0.6"/>
<text x="296.00" y="218.00" font-size="8.4" text-anchor="middle" fill="#161616" font-weight="normal">PD-1</text>
<text x="296.20" y="334.50" font-size="6.65" text-anchor="middle" fill="#161616" font-weight="normal">PD-1-APC</text>
<rect x="24.70" y="363.60" width="91.80" height="90.90" fill="#fff" stroke="none" stroke-width="0.6"/>
<g transform="translate(20 358) scale(0.14620)" stroke-linejoin="round">
<path d="M160.0 660.0 C166.7 655.3 187.5 643.7 200.0 632.0 C212.5 620.3 225.8 602.0 235.0 590.0 C244.2 578.0 249.2 567.5 255.0 560.0 C260.8 552.5 264.2 544.2 270.0 545.0 C275.8 545.8 283.3 560.0 290.0 565.0 C296.7 570.0 301.7 575.8 310.0 575.0 C318.3 574.2 330.8 572.5 340.0 560.0 C349.2 547.5 357.5 523.3 365.0 500.0 C372.5 476.7 379.2 450.0 385.0 420.0 C390.8 390.0 395.5 353.3 400.0 320.0 C404.5 286.7 407.8 253.3 412.0 220.0 C416.2 186.7 421.5 141.7 425.0 120.0 C428.5 98.3 429.7 88.3 433.0 90.0 C436.3 91.7 441.3 111.7 445.0 130.0 C448.7 148.3 452.2 163.3 455.0 200.0 C457.8 236.7 459.5 300.0 462.0 350.0 C464.5 400.0 467.3 458.3 470.0 500.0 C472.7 541.7 474.7 573.8 478.0 600.0 C481.3 626.2 488.0 647.5 490.0 657.0 Z" fill="rgba(170,170,170,0.48)" stroke="none"/>
<path d="M160.0 660.0 C166.7 655.3 187.5 643.7 200.0 632.0 C212.5 620.3 225.8 602.0 235.0 590.0 C244.2 578.0 249.2 567.5 255.0 560.0 C260.8 552.5 264.2 544.2 270.0 545.0 C275.8 545.8 283.3 560.0 290.0 565.0 C296.7 570.0 301.7 575.8 310.0 575.0 C318.3 574.2 330.8 572.5 340.0 560.0 C349.2 547.5 357.5 523.3 365.0 500.0 C372.5 476.7 379.2 450.0 385.0 420.0 C390.8 390.0 395.5 353.3 400.0 320.0 C404.5 286.7 407.8 253.3 412.0 220.0 C416.2 186.7 421.5 141.7 425.0 120.0 C428.5 98.3 429.7 88.3 433.0 90.0 C436.3 91.7 441.3 111.7 445.0 130.0 C448.7 148.3 452.2 163.3 455.0 200.0 C457.8 236.7 459.5 300.0 462.0 350.0 C464.5 400.0 467.3 458.3 470.0 500.0 C472.7 541.7 474.7 573.8 478.0 600.0 C481.3 626.2 488.0 647.5 490.0 657.0" fill="none" stroke="#9c9c9c" stroke-width="6"/>
<path d="M150.0 660.0 C154.2 656.7 167.5 651.7 175.0 640.0 C182.5 628.3 188.3 613.3 195.0 590.0 C201.7 566.7 208.3 540.0 215.0 500.0 C221.7 460.0 229.2 396.7 235.0 350.0 C240.8 303.3 245.3 258.3 250.0 220.0 C254.7 181.7 259.3 141.3 263.0 120.0 C266.7 98.7 269.5 94.3 272.0 92.0 C274.5 89.7 276.2 105.5 278.0 106.0 C279.8 106.5 280.7 87.7 283.0 95.0 C285.3 102.3 288.8 124.2 292.0 150.0 C295.2 175.8 298.2 208.3 302.0 250.0 C305.8 291.7 310.3 355.0 315.0 400.0 C319.7 445.0 324.2 489.2 330.0 520.0 C335.8 550.8 342.5 570.3 350.0 585.0 C357.5 599.7 366.7 602.2 375.0 608.0 C383.3 613.8 390.8 617.2 400.0 620.0 C409.2 622.8 420.8 623.0 430.0 625.0 C439.2 627.0 447.5 627.8 455.0 632.0 C462.5 636.2 469.2 645.3 475.0 650.0 C480.8 654.7 487.5 658.3 490.0 660.0 Z" fill="rgba(222,30,30,0.45)" stroke="none"/>
<path d="M150.0 660.0 C154.2 656.7 167.5 651.7 175.0 640.0 C182.5 628.3 188.3 613.3 195.0 590.0 C201.7 566.7 208.3 540.0 215.0 500.0 C221.7 460.0 229.2 396.7 235.0 350.0 C240.8 303.3 245.3 258.3 250.0 220.0 C254.7 181.7 259.3 141.3 263.0 120.0 C266.7 98.7 269.5 94.3 272.0 92.0 C274.5 89.7 276.2 105.5 278.0 106.0 C279.8 106.5 280.7 87.7 283.0 95.0 C285.3 102.3 288.8 124.2 292.0 150.0 C295.2 175.8 298.2 208.3 302.0 250.0 C305.8 291.7 310.3 355.0 315.0 400.0 C319.7 445.0 324.2 489.2 330.0 520.0 C335.8 550.8 342.5 570.3 350.0 585.0 C357.5 599.7 366.7 602.2 375.0 608.0 C383.3 613.8 390.8 617.2 400.0 620.0 C409.2 622.8 420.8 623.0 430.0 625.0 C439.2 627.0 447.5 627.8 455.0 632.0 C462.5 636.2 469.2 645.3 475.0 650.0 C480.8 654.7 487.5 658.3 490.0 660.0" fill="none" stroke="#cf0606" stroke-width="8.5"/>
<path d="M160.0 660.0 C170.0 658.5 201.7 654.3 220.0 651.0 C238.3 647.7 255.0 640.5 270.0 640.0 C285.0 639.5 295.0 648.0 310.0 648.0 C325.0 648.0 347.5 644.7 360.0 640.0 C372.5 635.3 378.3 633.3 385.0 620.0 C391.7 606.7 395.8 588.3 400.0 560.0 C404.2 531.7 406.7 493.3 410.0 450.0 C413.3 406.7 416.7 350.0 420.0 300.0 C423.3 250.0 427.2 184.7 430.0 150.0 C432.8 115.3 434.2 93.7 437.0 92.0 C439.8 90.3 444.0 122.0 447.0 140.0 C450.0 158.0 452.3 165.0 455.0 200.0 C457.7 235.0 460.5 300.0 463.0 350.0 C465.5 400.0 467.5 458.3 470.0 500.0 C472.5 541.7 474.7 573.8 478.0 600.0 C481.3 626.2 488.0 647.5 490.0 657.0 Z" fill="rgba(64,64,64,0.45)" stroke="none"/>
<path d="M160.0 660.0 C170.0 658.5 201.7 654.3 220.0 651.0 C238.3 647.7 255.0 640.5 270.0 640.0 C285.0 639.5 295.0 648.0 310.0 648.0 C325.0 648.0 347.5 644.7 360.0 640.0 C372.5 635.3 378.3 633.3 385.0 620.0 C391.7 606.7 395.8 588.3 400.0 560.0 C404.2 531.7 406.7 493.3 410.0 450.0 C413.3 406.7 416.7 350.0 420.0 300.0 C423.3 250.0 427.2 184.7 430.0 150.0 C432.8 115.3 434.2 93.7 437.0 92.0 C439.8 90.3 444.0 122.0 447.0 140.0 C450.0 158.0 452.3 165.0 455.0 200.0 C457.7 235.0 460.5 300.0 463.0 350.0 C465.5 400.0 467.5 458.3 470.0 500.0 C472.5 541.7 474.7 573.8 478.0 600.0 C481.3 626.2 488.0 647.5 490.0 657.0" fill="none" stroke="#404040" stroke-width="8"/>
</g>
<rect x="24.70" y="363.60" width="91.80" height="90.90" fill="none" stroke="#3a3a3a" stroke-width="0.75"/>
<line x1="24.70" y1="454.10" x2="116.50" y2="454.10" stroke="#333" stroke-width="0.9"/>
<line x1="22.70" y1="454.00" x2="24.70" y2="454.00" stroke="#444" stroke-width="0.5"/>
<text x="21.50" y="456.00" font-size="5.8" text-anchor="end" fill="#333" font-weight="normal">0</text>
<line x1="22.70" y1="436.86" x2="24.70" y2="436.86" stroke="#444" stroke-width="0.5"/>
<text x="21.50" y="438.86" font-size="5.8" text-anchor="end" fill="#333" font-weight="normal">20</text>
<line x1="22.70" y1="419.72" x2="24.70" y2="419.72" stroke="#444" stroke-width="0.5"/>
<text x="21.50" y="421.72" font-size="5.8" text-anchor="end" fill="#333" font-weight="normal">40</text>
<line x1="22.70" y1="402.58" x2="24.70" y2="402.58" stroke="#444" stroke-width="0.5"/>
<text x="21.50" y="404.58" font-size="5.8" text-anchor="end" fill="#333" font-weight="normal">60</text>
<line x1="22.70" y1="385.44" x2="24.70" y2="385.44" stroke="#444" stroke-width="0.5"/>
<text x="21.50" y="387.44" font-size="5.8" text-anchor="end" fill="#333" font-weight="normal">80</text>
<line x1="22.70" y1="368.30" x2="24.70" y2="368.30" stroke="#444" stroke-width="0.5"/>
<text x="21.50" y="370.30" font-size="5.8" text-anchor="end" fill="#333" font-weight="normal">100</text>
<text x="29.40" y="463.80" font-size="6.2" text-anchor="middle" fill="#2a2a2a">−10<tspan dy="-2.1" font-size="3.6">3</tspan></text>
<text x="45.40" y="463.80" font-size="6.2" text-anchor="middle" fill="#2a2a2a" font-weight="normal">0</text>
<text x="60.30" y="463.80" font-size="6.2" text-anchor="middle" fill="#2a2a2a">10<tspan dy="-2.1" font-size="3.6">3</tspan></text>
<text x="86.10" y="463.80" font-size="6.2" text-anchor="middle" fill="#2a2a2a">10<tspan dy="-2.1" font-size="3.6">4</tspan></text>
<text x="107.00" y="463.80" font-size="6.2" text-anchor="middle" fill="#2a2a2a">10<tspan dy="-2.1" font-size="3.6">5</tspan></text>
<line x1="29.40" y1="454.50" x2="29.40" y2="456.30" stroke="#444" stroke-width="0.5"/>
<line x1="45.40" y1="454.50" x2="45.40" y2="456.30" stroke="#444" stroke-width="0.5"/>
<line x1="60.30" y1="454.50" x2="60.30" y2="456.30" stroke="#444" stroke-width="0.5"/>
<line x1="86.10" y1="454.50" x2="86.10" y2="456.30" stroke="#444" stroke-width="0.5"/>
<line x1="107.00" y1="454.50" x2="107.00" y2="456.30" stroke="#444" stroke-width="0.5"/>
<line x1="68.07" y1="454.50" x2="68.07" y2="455.60" stroke="#444" stroke-width="0.4"/>
<line x1="72.61" y1="454.50" x2="72.61" y2="455.60" stroke="#444" stroke-width="0.4"/>
<line x1="75.83" y1="454.50" x2="75.83" y2="455.60" stroke="#444" stroke-width="0.4"/>
<line x1="78.33" y1="454.50" x2="78.33" y2="455.60" stroke="#444" stroke-width="0.4"/>
<line x1="80.38" y1="454.50" x2="80.38" y2="455.60" stroke="#444" stroke-width="0.4"/>
<line x1="82.10" y1="454.50" x2="82.10" y2="455.60" stroke="#444" stroke-width="0.4"/>
<line x1="83.60" y1="454.50" x2="83.60" y2="455.60" stroke="#444" stroke-width="0.4"/>
<line x1="84.92" y1="454.50" x2="84.92" y2="455.60" stroke="#444" stroke-width="0.4"/>
<line x1="92.39" y1="454.50" x2="92.39" y2="455.60" stroke="#444" stroke-width="0.4"/>
<line x1="96.07" y1="454.50" x2="96.07" y2="455.60" stroke="#444" stroke-width="0.4"/>
<line x1="98.68" y1="454.50" x2="98.68" y2="455.60" stroke="#444" stroke-width="0.4"/>
<line x1="100.71" y1="454.50" x2="100.71" y2="455.60" stroke="#444" stroke-width="0.4"/>
<line x1="102.36" y1="454.50" x2="102.36" y2="455.60" stroke="#444" stroke-width="0.4"/>
<line x1="103.76" y1="454.50" x2="103.76" y2="455.60" stroke="#444" stroke-width="0.4"/>
<line x1="104.97" y1="454.50" x2="104.97" y2="455.60" stroke="#444" stroke-width="0.4"/>
<line x1="106.04" y1="454.50" x2="106.04" y2="455.60" stroke="#444" stroke-width="0.4"/>
<line x1="48.38" y1="454.50" x2="48.38" y2="455.60" stroke="#444" stroke-width="0.4"/>
<line x1="42.20" y1="454.50" x2="42.20" y2="455.60" stroke="#444" stroke-width="0.4"/>
<line x1="51.36" y1="454.50" x2="51.36" y2="455.60" stroke="#444" stroke-width="0.4"/>
<line x1="39.00" y1="454.50" x2="39.00" y2="455.60" stroke="#444" stroke-width="0.4"/>
<line x1="54.34" y1="454.50" x2="54.34" y2="455.60" stroke="#444" stroke-width="0.4"/>
<line x1="35.80" y1="454.50" x2="35.80" y2="455.60" stroke="#444" stroke-width="0.4"/>
<line x1="57.32" y1="454.50" x2="57.32" y2="455.60" stroke="#444" stroke-width="0.4"/>
<line x1="32.60" y1="454.50" x2="32.60" y2="455.60" stroke="#444" stroke-width="0.4"/>
<rect x="43.80" y="454.20" width="3.20" height="1.60" fill="#111" stroke="none" stroke-width="0.6"/>
<text x="72.30" y="358.40" font-size="8.4" text-anchor="middle" fill="#161616" font-weight="normal">TCF1</text>
<text x="71.60" y="474.30" font-size="6.7" text-anchor="middle" fill="#161616" font-weight="normal">TCF1-APC</text>
<rect x="137.60" y="363.60" width="91.50" height="90.60" fill="#fff" stroke="none" stroke-width="0.6"/>
<g transform="translate(130 358) scale(0.14620)" stroke-linejoin="round">
<path d="M200.0 658.0 C204.2 651.7 217.5 646.3 225.0 620.0 C232.5 593.7 239.2 545.0 245.0 500.0 C250.8 455.0 255.0 400.0 260.0 350.0 C265.0 300.0 270.0 240.0 275.0 200.0 C280.0 160.0 285.0 127.5 290.0 110.0 C295.0 92.5 300.5 102.5 305.0 95.0 C309.5 87.5 313.7 60.8 317.0 65.0 C320.3 69.2 322.0 94.2 325.0 120.0 C328.0 145.8 331.2 190.0 335.0 220.0 C338.8 250.0 343.8 270.0 348.0 300.0 C352.2 330.0 355.5 370.0 360.0 400.0 C364.5 430.0 369.2 455.0 375.0 480.0 C380.8 505.0 387.5 530.0 395.0 550.0 C402.5 570.0 410.8 585.8 420.0 600.0 C429.2 614.2 440.0 625.7 450.0 635.0 C460.0 644.3 475.0 652.5 480.0 656.0 Z" fill="rgba(170,170,170,0.48)" stroke="none"/>
<path d="M200.0 658.0 C204.2 651.7 217.5 646.3 225.0 620.0 C232.5 593.7 239.2 545.0 245.0 500.0 C250.8 455.0 255.0 400.0 260.0 350.0 C265.0 300.0 270.0 240.0 275.0 200.0 C280.0 160.0 285.0 127.5 290.0 110.0 C295.0 92.5 300.5 102.5 305.0 95.0 C309.5 87.5 313.7 60.8 317.0 65.0 C320.3 69.2 322.0 94.2 325.0 120.0 C328.0 145.8 331.2 190.0 335.0 220.0 C338.8 250.0 343.8 270.0 348.0 300.0 C352.2 330.0 355.5 370.0 360.0 400.0 C364.5 430.0 369.2 455.0 375.0 480.0 C380.8 505.0 387.5 530.0 395.0 550.0 C402.5 570.0 410.8 585.8 420.0 600.0 C429.2 614.2 440.0 625.7 450.0 635.0 C460.0 644.3 475.0 652.5 480.0 656.0" fill="none" stroke="#9c9c9c" stroke-width="6"/>
<path d="M200.0 658.0 C208.3 656.7 235.0 654.7 250.0 650.0 C265.0 645.3 278.3 638.3 290.0 630.0 C301.7 621.7 310.8 613.3 320.0 600.0 C329.2 586.7 337.5 571.7 345.0 550.0 C352.5 528.3 359.2 498.3 365.0 470.0 C370.8 441.7 375.0 410.0 380.0 380.0 C385.0 350.0 390.0 315.0 395.0 290.0 C400.0 265.0 405.0 256.7 410.0 230.0 C415.0 203.3 420.0 155.8 425.0 130.0 C430.0 104.2 436.2 78.3 440.0 75.0 C443.8 71.7 445.5 105.8 448.0 110.0 C450.5 114.2 452.2 93.3 455.0 100.0 C457.8 106.7 461.7 128.3 465.0 150.0 C468.3 171.7 471.2 200.0 475.0 230.0 C478.8 260.0 483.8 296.7 488.0 330.0 C492.2 363.3 496.0 398.3 500.0 430.0 C504.0 461.7 507.8 493.3 512.0 520.0 C516.2 546.7 520.3 570.8 525.0 590.0 C529.7 609.2 534.2 624.2 540.0 635.0 C545.8 645.8 554.2 651.2 560.0 655.0 C565.8 658.8 572.5 657.5 575.0 658.0 Z" fill="rgba(222,30,30,0.45)" stroke="none"/>
<path d="M200.0 658.0 C208.3 656.7 235.0 654.7 250.0 650.0 C265.0 645.3 278.3 638.3 290.0 630.0 C301.7 621.7 310.8 613.3 320.0 600.0 C329.2 586.7 337.5 571.7 345.0 550.0 C352.5 528.3 359.2 498.3 365.0 470.0 C370.8 441.7 375.0 410.0 380.0 380.0 C385.0 350.0 390.0 315.0 395.0 290.0 C400.0 265.0 405.0 256.7 410.0 230.0 C415.0 203.3 420.0 155.8 425.0 130.0 C430.0 104.2 436.2 78.3 440.0 75.0 C443.8 71.7 445.5 105.8 448.0 110.0 C450.5 114.2 452.2 93.3 455.0 100.0 C457.8 106.7 461.7 128.3 465.0 150.0 C468.3 171.7 471.2 200.0 475.0 230.0 C478.8 260.0 483.8 296.7 488.0 330.0 C492.2 363.3 496.0 398.3 500.0 430.0 C504.0 461.7 507.8 493.3 512.0 520.0 C516.2 546.7 520.3 570.8 525.0 590.0 C529.7 609.2 534.2 624.2 540.0 635.0 C545.8 645.8 554.2 651.2 560.0 655.0 C565.8 658.8 572.5 657.5 575.0 658.0" fill="none" stroke="#cf0606" stroke-width="8.5"/>
<path d="M200.0 658.0 C203.3 653.3 214.2 646.3 220.0 630.0 C225.8 613.7 230.0 598.3 235.0 560.0 C240.0 521.7 245.5 451.7 250.0 400.0 C254.5 348.3 258.3 291.7 262.0 250.0 C265.7 208.3 268.8 174.2 272.0 150.0 C275.2 125.8 278.0 100.0 281.0 105.0 C284.0 110.0 286.8 147.5 290.0 180.0 C293.2 212.5 296.3 258.3 300.0 300.0 C303.7 341.7 307.8 391.7 312.0 430.0 C316.2 468.3 320.3 503.3 325.0 530.0 C329.7 556.7 333.3 573.3 340.0 590.0 C346.7 606.7 355.0 620.0 365.0 630.0 C375.0 640.0 387.5 645.3 400.0 650.0 C412.5 654.7 433.3 656.7 440.0 658.0 Z" fill="rgba(64,64,64,0.45)" stroke="none"/>
<path d="M200.0 658.0 C203.3 653.3 214.2 646.3 220.0 630.0 C225.8 613.7 230.0 598.3 235.0 560.0 C240.0 521.7 245.5 451.7 250.0 400.0 C254.5 348.3 258.3 291.7 262.0 250.0 C265.7 208.3 268.8 174.2 272.0 150.0 C275.2 125.8 278.0 100.0 281.0 105.0 C284.0 110.0 286.8 147.5 290.0 180.0 C293.2 212.5 296.3 258.3 300.0 300.0 C303.7 341.7 307.8 391.7 312.0 430.0 C316.2 468.3 320.3 503.3 325.0 530.0 C329.7 556.7 333.3 573.3 340.0 590.0 C346.7 606.7 355.0 620.0 365.0 630.0 C375.0 640.0 387.5 645.3 400.0 650.0 C412.5 654.7 433.3 656.7 440.0 658.0" fill="none" stroke="#404040" stroke-width="8"/>
</g>
<rect x="137.60" y="363.60" width="91.50" height="90.60" fill="none" stroke="#3a3a3a" stroke-width="0.75"/>
<line x1="137.60" y1="453.80" x2="229.10" y2="453.80" stroke="#333" stroke-width="0.9"/>
<line x1="135.60" y1="453.80" x2="137.60" y2="453.80" stroke="#444" stroke-width="0.5"/>
<text x="134.40" y="455.80" font-size="5.8" text-anchor="end" fill="#333" font-weight="normal">0</text>
<line x1="135.60" y1="436.70" x2="137.60" y2="436.70" stroke="#444" stroke-width="0.5"/>
<text x="134.40" y="438.70" font-size="5.8" text-anchor="end" fill="#333" font-weight="normal">20</text>
<line x1="135.60" y1="419.60" x2="137.60" y2="419.60" stroke="#444" stroke-width="0.5"/>
<text x="134.40" y="421.60" font-size="5.8" text-anchor="end" fill="#333" font-weight="normal">40</text>
<line x1="135.60" y1="402.50" x2="137.60" y2="402.50" stroke="#444" stroke-width="0.5"/>
<text x="134.40" y="404.50" font-size="5.8" text-anchor="end" fill="#333" font-weight="normal">60</text>
<line x1="135.60" y1="385.40" x2="137.60" y2="385.40" stroke="#444" stroke-width="0.5"/>
<text x="134.40" y="387.40" font-size="5.8" text-anchor="end" fill="#333" font-weight="normal">80</text>
<line x1="135.60" y1="368.30" x2="137.60" y2="368.30" stroke="#444" stroke-width="0.5"/>
<text x="134.40" y="370.30" font-size="5.8" text-anchor="end" fill="#333" font-weight="normal">100</text>
<text x="142.60" y="463.80" font-size="6.2" text-anchor="middle" fill="#2a2a2a">−10<tspan dy="-2.1" font-size="3.6">3</tspan></text>
<text x="158.70" y="463.80" font-size="6.2" text-anchor="middle" fill="#2a2a2a" font-weight="normal">0</text>
<text x="173.40" y="463.80" font-size="6.2" text-anchor="middle" fill="#2a2a2a">10<tspan dy="-2.1" font-size="3.6">3</tspan></text>
<text x="200.10" y="463.80" font-size="6.2" text-anchor="middle" fill="#2a2a2a">10<tspan dy="-2.1" font-size="3.6">4</tspan></text>
<text x="220.50" y="463.80" font-size="6.2" text-anchor="middle" fill="#2a2a2a">10<tspan dy="-2.1" font-size="3.6">5</tspan></text>
<line x1="142.60" y1="454.20" x2="142.60" y2="456.00" stroke="#444" stroke-width="0.5"/>
<line x1="158.70" y1="454.20" x2="158.70" y2="456.00" stroke="#444" stroke-width="0.5"/>
<line x1="173.40" y1="454.20" x2="173.40" y2="456.00" stroke="#444" stroke-width="0.5"/>
<line x1="200.10" y1="454.20" x2="200.10" y2="456.00" stroke="#444" stroke-width="0.5"/>
<line x1="220.50" y1="454.20" x2="220.50" y2="456.00" stroke="#444" stroke-width="0.5"/>
<line x1="181.44" y1="454.20" x2="181.44" y2="455.30" stroke="#444" stroke-width="0.4"/>
<line x1="186.14" y1="454.20" x2="186.14" y2="455.30" stroke="#444" stroke-width="0.4"/>
<line x1="189.48" y1="454.20" x2="189.48" y2="455.30" stroke="#444" stroke-width="0.4"/>
<line x1="192.06" y1="454.20" x2="192.06" y2="455.30" stroke="#444" stroke-width="0.4"/>
<line x1="194.18" y1="454.20" x2="194.18" y2="455.30" stroke="#444" stroke-width="0.4"/>
<line x1="195.96" y1="454.20" x2="195.96" y2="455.30" stroke="#444" stroke-width="0.4"/>
<line x1="197.51" y1="454.20" x2="197.51" y2="455.30" stroke="#444" stroke-width="0.4"/>
<line x1="198.88" y1="454.20" x2="198.88" y2="455.30" stroke="#444" stroke-width="0.4"/>
<line x1="206.24" y1="454.20" x2="206.24" y2="455.30" stroke="#444" stroke-width="0.4"/>
<line x1="209.83" y1="454.20" x2="209.83" y2="455.30" stroke="#444" stroke-width="0.4"/>
<line x1="212.38" y1="454.20" x2="212.38" y2="455.30" stroke="#444" stroke-width="0.4"/>
<line x1="214.36" y1="454.20" x2="214.36" y2="455.30" stroke="#444" stroke-width="0.4"/>
<line x1="215.97" y1="454.20" x2="215.97" y2="455.30" stroke="#444" stroke-width="0.4"/>
<line x1="217.34" y1="454.20" x2="217.34" y2="455.30" stroke="#444" stroke-width="0.4"/>
<line x1="218.52" y1="454.20" x2="218.52" y2="455.30" stroke="#444" stroke-width="0.4"/>
<line x1="219.57" y1="454.20" x2="219.57" y2="455.30" stroke="#444" stroke-width="0.4"/>
<line x1="161.64" y1="454.20" x2="161.64" y2="455.30" stroke="#444" stroke-width="0.4"/>
<line x1="155.48" y1="454.20" x2="155.48" y2="455.30" stroke="#444" stroke-width="0.4"/>
<line x1="164.58" y1="454.20" x2="164.58" y2="455.30" stroke="#444" stroke-width="0.4"/>
<line x1="152.26" y1="454.20" x2="152.26" y2="455.30" stroke="#444" stroke-width="0.4"/>
<line x1="167.52" y1="454.20" x2="167.52" y2="455.30" stroke="#444" stroke-width="0.4"/>
<line x1="149.04" y1="454.20" x2="149.04" y2="455.30" stroke="#444" stroke-width="0.4"/>
<line x1="170.46" y1="454.20" x2="170.46" y2="455.30" stroke="#444" stroke-width="0.4"/>
<line x1="145.82" y1="454.20" x2="145.82" y2="455.30" stroke="#444" stroke-width="0.4"/>
<rect x="157.10" y="453.90" width="3.20" height="1.60" fill="#111" stroke="none" stroke-width="0.6"/>
<text x="183.00" y="358.40" font-size="8.4" text-anchor="middle" fill="#161616" font-weight="normal">GzmB</text>
<text x="182.20" y="474.30" font-size="7.25" text-anchor="middle" fill="#161616" font-weight="normal">Gzmb-PacBlue</text>
<rect x="250.30" y="363.60" width="91.30" height="90.90" fill="#fff" stroke="none" stroke-width="0.6"/>
<g transform="translate(240 358) scale(0.14620)" stroke-linejoin="round">
<path d="M175.0 658.0 C177.8 652.5 186.8 661.3 192.0 625.0 C197.2 588.7 202.3 510.8 206.0 440.0 C209.7 369.2 211.3 264.7 214.0 200.0 C216.7 135.3 219.2 60.3 222.0 52.0 C224.8 43.7 227.8 108.7 231.0 150.0 C234.2 191.3 237.5 251.7 241.0 300.0 C244.5 348.3 247.5 403.3 252.0 440.0 C256.5 476.7 261.7 496.7 268.0 520.0 C274.3 543.3 281.3 562.5 290.0 580.0 C298.7 597.5 308.3 613.3 320.0 625.0 C331.7 636.7 346.7 644.3 360.0 650.0 C373.3 655.7 393.3 657.5 400.0 659.0 Z" fill="rgba(170,170,170,0.48)" stroke="none"/>
<path d="M175.0 658.0 C177.8 652.5 186.8 661.3 192.0 625.0 C197.2 588.7 202.3 510.8 206.0 440.0 C209.7 369.2 211.3 264.7 214.0 200.0 C216.7 135.3 219.2 60.3 222.0 52.0 C224.8 43.7 227.8 108.7 231.0 150.0 C234.2 191.3 237.5 251.7 241.0 300.0 C244.5 348.3 247.5 403.3 252.0 440.0 C256.5 476.7 261.7 496.7 268.0 520.0 C274.3 543.3 281.3 562.5 290.0 580.0 C298.7 597.5 308.3 613.3 320.0 625.0 C331.7 636.7 346.7 644.3 360.0 650.0 C373.3 655.7 393.3 657.5 400.0 659.0" fill="none" stroke="#9c9c9c" stroke-width="6"/>
<path d="M170.0 658.0 C173.3 653.3 184.2 664.7 190.0 630.0 C195.8 595.3 200.8 521.7 205.0 450.0 C209.2 378.3 211.3 263.7 215.0 200.0 C218.7 136.3 223.5 79.7 227.0 68.0 C230.5 56.3 232.8 94.7 236.0 130.0 C239.2 165.3 242.7 231.7 246.0 280.0 C249.3 328.3 252.0 381.7 256.0 420.0 C260.0 458.3 264.3 485.0 270.0 510.0 C275.7 535.0 281.7 551.7 290.0 570.0 C298.3 588.3 308.3 607.0 320.0 620.0 C331.7 633.0 346.7 641.5 360.0 648.0 C373.3 654.5 393.3 657.2 400.0 659.0 Z" fill="rgba(255,40,40,0.38)" stroke="none"/>
<path d="M170.0 658.0 C173.3 653.3 184.2 664.7 190.0 630.0 C195.8 595.3 200.8 521.7 205.0 450.0 C209.2 378.3 211.3 263.7 215.0 200.0 C218.7 136.3 223.5 79.7 227.0 68.0 C230.5 56.3 232.8 94.7 236.0 130.0 C239.2 165.3 242.7 231.7 246.0 280.0 C249.3 328.3 252.0 381.7 256.0 420.0 C260.0 458.3 264.3 485.0 270.0 510.0 C275.7 535.0 281.7 551.7 290.0 570.0 C298.3 588.3 308.3 607.0 320.0 620.0 C331.7 633.0 346.7 641.5 360.0 648.0 C373.3 654.5 393.3 657.2 400.0 659.0" fill="none" stroke="#fb2222" stroke-width="8"/>
<path d="M190.0 658.0 C192.5 648.3 201.2 629.7 205.0 600.0 C208.8 570.3 210.2 511.7 213.0 480.0 C215.8 448.3 218.8 411.7 222.0 410.0 C225.2 408.3 229.0 445.0 232.0 470.0 C235.0 495.0 236.2 540.0 240.0 560.0 C243.8 580.0 249.2 590.0 255.0 590.0 C260.8 590.0 268.3 580.0 275.0 560.0 C281.7 540.0 288.3 508.3 295.0 470.0 C301.7 431.7 309.2 375.0 315.0 330.0 C320.8 285.0 325.0 236.7 330.0 200.0 C335.0 163.3 339.2 130.3 345.0 110.0 C350.8 89.7 360.0 71.3 365.0 78.0 C370.0 84.7 371.7 116.3 375.0 150.0 C378.3 183.7 381.7 235.0 385.0 280.0 C388.3 325.0 391.7 378.3 395.0 420.0 C398.3 461.7 401.2 498.3 405.0 530.0 C408.8 561.7 413.0 590.0 418.0 610.0 C423.0 630.0 428.8 641.7 435.0 650.0 C441.2 658.3 451.7 658.3 455.0 660.0 Z" fill="rgba(64,64,64,0.45)" stroke="none"/>
<path d="M190.0 658.0 C192.5 648.3 201.2 629.7 205.0 600.0 C208.8 570.3 210.2 511.7 213.0 480.0 C215.8 448.3 218.8 411.7 222.0 410.0 C225.2 408.3 229.0 445.0 232.0 470.0 C235.0 495.0 236.2 540.0 240.0 560.0 C243.8 580.0 249.2 590.0 255.0 590.0 C260.8 590.0 268.3 580.0 275.0 560.0 C281.7 540.0 288.3 508.3 295.0 470.0 C301.7 431.7 309.2 375.0 315.0 330.0 C320.8 285.0 325.0 236.7 330.0 200.0 C335.0 163.3 339.2 130.3 345.0 110.0 C350.8 89.7 360.0 71.3 365.0 78.0 C370.0 84.7 371.7 116.3 375.0 150.0 C378.3 183.7 381.7 235.0 385.0 280.0 C388.3 325.0 391.7 378.3 395.0 420.0 C398.3 461.7 401.2 498.3 405.0 530.0 C408.8 561.7 413.0 590.0 418.0 610.0 C423.0 630.0 428.8 641.7 435.0 650.0 C441.2 658.3 451.7 658.3 455.0 660.0" fill="none" stroke="#404040" stroke-width="8"/>
</g>
<rect x="250.30" y="363.60" width="91.30" height="90.90" fill="none" stroke="#3a3a3a" stroke-width="0.75"/>
<line x1="250.30" y1="454.10" x2="341.60" y2="454.10" stroke="#333" stroke-width="0.9"/>
<line x1="248.30" y1="454.00" x2="250.30" y2="454.00" stroke="#444" stroke-width="0.5"/>
<text x="245.90" y="456.00" font-size="5.8" text-anchor="end" fill="#333" font-weight="normal">0</text>
<line x1="248.30" y1="436.86" x2="250.30" y2="436.86" stroke="#444" stroke-width="0.5"/>
<text x="245.90" y="438.86" font-size="5.8" text-anchor="end" fill="#333" font-weight="normal">20</text>
<line x1="248.30" y1="419.72" x2="250.30" y2="419.72" stroke="#444" stroke-width="0.5"/>
<text x="245.90" y="421.72" font-size="5.8" text-anchor="end" fill="#333" font-weight="normal">40</text>
<line x1="248.30" y1="402.58" x2="250.30" y2="402.58" stroke="#444" stroke-width="0.5"/>
<text x="245.90" y="404.58" font-size="5.8" text-anchor="end" fill="#333" font-weight="normal">60</text>
<line x1="248.30" y1="385.44" x2="250.30" y2="385.44" stroke="#444" stroke-width="0.5"/>
<text x="245.90" y="387.44" font-size="5.8" text-anchor="end" fill="#333" font-weight="normal">80</text>
<line x1="248.30" y1="368.30" x2="250.30" y2="368.30" stroke="#444" stroke-width="0.5"/>
<text x="245.90" y="370.30" font-size="5.8" text-anchor="end" fill="#333" font-weight="normal">100</text>
<text x="254.90" y="463.80" font-size="6.2" text-anchor="middle" fill="#2a2a2a">−10<tspan dy="-2.1" font-size="3.6">3</tspan></text>
<text x="271.20" y="463.80" font-size="6.2" text-anchor="middle" fill="#2a2a2a" font-weight="normal">0</text>
<text x="285.50" y="463.80" font-size="6.2" text-anchor="middle" fill="#2a2a2a">10<tspan dy="-2.1" font-size="3.6">3</tspan></text>
<text x="311.30" y="463.80" font-size="6.2" text-anchor="middle" fill="#2a2a2a">10<tspan dy="-2.1" font-size="3.6">4</tspan></text>
<text x="332.70" y="463.80" font-size="6.2" text-anchor="middle" fill="#2a2a2a">10<tspan dy="-2.1" font-size="3.6">5</tspan></text>
<line x1="254.90" y1="454.50" x2="254.90" y2="456.30" stroke="#444" stroke-width="0.5"/>
<line x1="271.20" y1="454.50" x2="271.20" y2="456.30" stroke="#444" stroke-width="0.5"/>
<line x1="285.50" y1="454.50" x2="285.50" y2="456.30" stroke="#444" stroke-width="0.5"/>
<line x1="311.30" y1="454.50" x2="311.30" y2="456.30" stroke="#444" stroke-width="0.5"/>
<line x1="332.70" y1="454.50" x2="332.70" y2="456.30" stroke="#444" stroke-width="0.5"/>
<line x1="293.27" y1="454.50" x2="293.27" y2="455.60" stroke="#444" stroke-width="0.4"/>
<line x1="297.81" y1="454.50" x2="297.81" y2="455.60" stroke="#444" stroke-width="0.4"/>
<line x1="301.03" y1="454.50" x2="301.03" y2="455.60" stroke="#444" stroke-width="0.4"/>
<line x1="303.53" y1="454.50" x2="303.53" y2="455.60" stroke="#444" stroke-width="0.4"/>
<line x1="305.58" y1="454.50" x2="305.58" y2="455.60" stroke="#444" stroke-width="0.4"/>
<line x1="307.30" y1="454.50" x2="307.30" y2="455.60" stroke="#444" stroke-width="0.4"/>
<line x1="308.80" y1="454.50" x2="308.80" y2="455.60" stroke="#444" stroke-width="0.4"/>
<line x1="310.12" y1="454.50" x2="310.12" y2="455.60" stroke="#444" stroke-width="0.4"/>
<line x1="317.74" y1="454.50" x2="317.74" y2="455.60" stroke="#444" stroke-width="0.4"/>
<line x1="321.51" y1="454.50" x2="321.51" y2="455.60" stroke="#444" stroke-width="0.4"/>
<line x1="324.18" y1="454.50" x2="324.18" y2="455.60" stroke="#444" stroke-width="0.4"/>
<line x1="326.26" y1="454.50" x2="326.26" y2="455.60" stroke="#444" stroke-width="0.4"/>
<line x1="327.95" y1="454.50" x2="327.95" y2="455.60" stroke="#444" stroke-width="0.4"/>
<line x1="329.39" y1="454.50" x2="329.39" y2="455.60" stroke="#444" stroke-width="0.4"/>
<line x1="330.63" y1="454.50" x2="330.63" y2="455.60" stroke="#444" stroke-width="0.4"/>
<line x1="331.72" y1="454.50" x2="331.72" y2="455.60" stroke="#444" stroke-width="0.4"/>
<line x1="274.06" y1="454.50" x2="274.06" y2="455.60" stroke="#444" stroke-width="0.4"/>
<line x1="267.94" y1="454.50" x2="267.94" y2="455.60" stroke="#444" stroke-width="0.4"/>
<line x1="276.92" y1="454.50" x2="276.92" y2="455.60" stroke="#444" stroke-width="0.4"/>
<line x1="264.68" y1="454.50" x2="264.68" y2="455.60" stroke="#444" stroke-width="0.4"/>
<line x1="279.78" y1="454.50" x2="279.78" y2="455.60" stroke="#444" stroke-width="0.4"/>
<line x1="261.42" y1="454.50" x2="261.42" y2="455.60" stroke="#444" stroke-width="0.4"/>
<line x1="282.64" y1="454.50" x2="282.64" y2="455.60" stroke="#444" stroke-width="0.4"/>
<line x1="258.16" y1="454.50" x2="258.16" y2="455.60" stroke="#444" stroke-width="0.4"/>
<rect x="269.60" y="454.20" width="3.20" height="1.60" fill="#111" stroke="none" stroke-width="0.6"/>
<text x="295.90" y="358.40" font-size="8.4" text-anchor="middle" fill="#161616" font-weight="normal">CD62L</text>
<text x="296.80" y="474.30" font-size="7.25" text-anchor="middle" fill="#161616" font-weight="normal">CD62L-PerCPCy5.5</text>
<rect x="76.30" y="482.70" width="7.20" height="7.00" fill="#474747" stroke="none" stroke-width="0.6"/>
<text x="87.40" y="488.20" font-size="5.45" text-anchor="start" fill="#161616" font-weight="normal">RISP WT</text>
<rect x="126.80" y="482.70" width="7.20" height="7.00" fill="#f83c3c" stroke="none" stroke-width="0.6"/>
<text x="137.80" y="488.20" font-size="5.45" text-anchor="start" fill="#161616" font-weight="normal">RISP KO</text>
<rect x="179.50" y="482.70" width="7.20" height="7.00" fill="#b0b0b0" stroke="none" stroke-width="0.6"/>
<text x="190.30" y="488.20" font-size="5.45" text-anchor="start" fill="#161616" font-weight="normal">RISP KO + AOX</text>
<text x="361.80" y="209.90" font-size="12" text-anchor="middle" fill="#000" font-weight="bold" stroke="#000" stroke-width="0.45">e</text>
<text x="425.90" y="205.60" font-size="8.3" text-anchor="middle" fill="#161616" font-weight="normal">TOX</text>
<rect x="402.20" y="272.00" width="11.40" height="48.20" fill="#5f5f5f" stroke="#262626" stroke-width="0.9"/>
<rect x="422.00" y="252.20" width="11.40" height="68.00" fill="#D9D9D9" stroke="#262626" stroke-width="0.9"/>
<rect x="441.30" y="265.20" width="11.40" height="55.00" fill="#9a9a9a" stroke="#262626" stroke-width="0.9"/>
<line x1="407.90" y1="268.90" x2="407.90" y2="274.40" stroke="#c8c8c8" stroke-width="0.6"/>
<line x1="405.15" y1="268.90" x2="410.65" y2="268.90" stroke="#c8c8c8" stroke-width="0.6"/>
<line x1="405.15" y1="274.40" x2="410.65" y2="274.40" stroke="#c8c8c8" stroke-width="0.6"/>
<line x1="427.70" y1="247.00" x2="427.70" y2="256.60" stroke="#3a3a3a" stroke-width="0.6"/>
<line x1="424.40" y1="247.00" x2="431.00" y2="247.00" stroke="#3a3a3a" stroke-width="0.6"/>
<line x1="424.40" y1="256.60" x2="431.00" y2="256.60" stroke="#3a3a3a" stroke-width="0.6"/>
<line x1="447.00" y1="262.50" x2="447.00" y2="267.60" stroke="#3a3a3a" stroke-width="0.6"/>
<line x1="444.25" y1="262.50" x2="449.75" y2="262.50" stroke="#3a3a3a" stroke-width="0.6"/>
<line x1="444.25" y1="267.60" x2="449.75" y2="267.60" stroke="#3a3a3a" stroke-width="0.6"/>
<line x1="394.80" y1="222.60" x2="394.80" y2="320.20" stroke="#9a9a9a" stroke-width="0.6"/>
<line x1="394.50" y1="320.20" x2="458.20" y2="320.20" stroke="#2a2a2a" stroke-width="1.0"/>
<line x1="392.20" y1="222.60" x2="394.80" y2="222.60" stroke="#9a9a9a" stroke-width="0.6"/>
<text x="388.60" y="224.80" font-size="6.4" text-anchor="end" fill="#333" font-weight="normal">2.0</text>
<line x1="392.20" y1="247.20" x2="394.80" y2="247.20" stroke="#9a9a9a" stroke-width="0.6"/>
<text x="388.60" y="249.40" font-size="6.4" text-anchor="end" fill="#333" font-weight="normal">1.5</text>
<line x1="392.20" y1="271.50" x2="394.80" y2="271.50" stroke="#9a9a9a" stroke-width="0.6"/>
<text x="388.60" y="273.70" font-size="6.4" text-anchor="end" fill="#333" font-weight="normal">1.0</text>
<line x1="392.20" y1="295.90" x2="394.80" y2="295.90" stroke="#9a9a9a" stroke-width="0.6"/>
<text x="388.60" y="298.10" font-size="6.4" text-anchor="end" fill="#333" font-weight="normal">0.5</text>
<line x1="392.20" y1="320.20" x2="394.80" y2="320.20" stroke="#9a9a9a" stroke-width="0.6"/>
<text x="388.60" y="322.40" font-size="6.4" text-anchor="end" fill="#333" font-weight="normal">0</text>
<line x1="407.90" y1="320.20" x2="407.90" y2="323.60" stroke="#666" stroke-width="0.6"/>
<text transform="translate(411.70 330.00) rotate(-45)" font-size="6.8" text-anchor="end" fill="#161616"><tspan x="0" y="0">RISP</tspan><tspan x="0" y="7.4">WT</tspan></text>
<line x1="427.70" y1="320.20" x2="427.70" y2="323.60" stroke="#666" stroke-width="0.6"/>
<text transform="translate(431.50 330.00) rotate(-45)" font-size="6.8" text-anchor="end" fill="#161616"><tspan x="0" y="0">RISP</tspan><tspan x="0" y="7.4">KO</tspan></text>
<line x1="447.00" y1="320.20" x2="447.00" y2="323.60" stroke="#666" stroke-width="0.6"/>
<text transform="translate(450.80 330.00) rotate(-45)" font-size="6.8" text-anchor="end" fill="#161616"><tspan x="0" y="0">RISP</tspan><tspan x="0" y="7.4">KO + AOX</tspan></text>
<circle cx="405.09" cy="268.67" r="1.60" fill="#111"/>
<circle cx="410.57" cy="268.67" r="1.60" fill="#111"/>
<circle cx="405.09" cy="274.59" r="1.60" fill="#111"/>
<circle cx="410.57" cy="274.59" r="1.60" fill="#111"/>
<rect x="425.95" y="232.92" width="3.04" height="3.04" fill="#111"/>
<rect x="429.24" y="251.13" width="3.04" height="3.04" fill="#111"/>
<rect x="423.09" y="252.23" width="3.04" height="3.04" fill="#111"/>
<rect x="423.09" y="258.16" width="3.04" height="3.04" fill="#111"/>
<rect x="429.24" y="256.62" width="3.04" height="3.04" fill="#111"/>
<path d="M443.92 258.73 L445.52 261.61 L442.32 261.61 Z" fill="#111"/>
<path d="M449.41 259.83 L451.01 262.71 L447.81 262.71 Z" fill="#111"/>
<path d="M444.36 263.78 L445.96 266.66 L442.76 266.66 Z" fill="#111"/>
<path d="M449.85 263.78 L451.45 266.66 L448.25 266.66 Z" fill="#111"/>
<path d="M447.21 269.70 L448.81 272.58 L445.61 272.58 Z" fill="#111"/>
<line x1="408.20" y1="222.60" x2="425.70" y2="222.60" stroke="#8a8a8a" stroke-width="0.6"/>
<text x="417.00" y="223.20" font-size="12.5" text-anchor="middle" fill="#161616" font-weight="normal">*</text>
<line x1="429.20" y1="222.60" x2="446.80" y2="222.60" stroke="#8a8a8a" stroke-width="0.6"/>
<text x="438.40" y="223.20" font-size="12.5" text-anchor="middle" fill="#161616" font-weight="normal">*</text>
<text x="365.20" y="272.00" font-size="7.5" text-anchor="middle" fill="#161616" font-weight="normal" transform="rotate(-90 365.20 272.00)">gMFI TOX</text>
<text x="373.00" y="272.00" font-size="7.5" text-anchor="middle" fill="#161616" font-weight="normal" transform="rotate(-90 373.00 272.00)">normalized to WT</text>
<text x="536.10" y="206.40" font-size="8.3" text-anchor="middle" fill="#161616" font-weight="normal">PD-1</text>
<rect x="512.70" y="315.70" width="12.00" height="4.80" fill="#5f5f5f" stroke="#262626" stroke-width="0.9"/>
<rect x="532.40" y="266.30" width="12.10" height="54.20" fill="#D9D9D9" stroke="#262626" stroke-width="0.9"/>
<rect x="551.70" y="301.40" width="12.10" height="19.10" fill="#9a9a9a" stroke="#262626" stroke-width="0.9"/>
<line x1="538.40" y1="257.10" x2="538.40" y2="274.00" stroke="#3a3a3a" stroke-width="0.6"/>
<line x1="535.10" y1="257.10" x2="541.70" y2="257.10" stroke="#3a3a3a" stroke-width="0.6"/>
<line x1="535.10" y1="274.00" x2="541.70" y2="274.00" stroke="#3a3a3a" stroke-width="0.6"/>
<line x1="557.70" y1="299.60" x2="557.70" y2="303.20" stroke="#3a3a3a" stroke-width="0.6"/>
<line x1="555.20" y1="299.60" x2="560.20" y2="299.60" stroke="#3a3a3a" stroke-width="0.6"/>
<line x1="555.20" y1="303.20" x2="560.20" y2="303.20" stroke="#3a3a3a" stroke-width="0.6"/>
<line x1="505.40" y1="223.10" x2="505.40" y2="320.50" stroke="#9a9a9a" stroke-width="0.6"/>
<line x1="505.10" y1="320.50" x2="568.60" y2="320.50" stroke="#2a2a2a" stroke-width="1.0"/>
<line x1="502.80" y1="223.10" x2="505.40" y2="223.10" stroke="#9a9a9a" stroke-width="0.6"/>
<text x="499.60" y="225.30" font-size="6.4" text-anchor="end" fill="#333" font-weight="normal">20</text>
<line x1="502.80" y1="247.40" x2="505.40" y2="247.40" stroke="#9a9a9a" stroke-width="0.6"/>
<text x="499.60" y="249.60" font-size="6.4" text-anchor="end" fill="#333" font-weight="normal">15</text>
<line x1="502.80" y1="271.80" x2="505.40" y2="271.80" stroke="#9a9a9a" stroke-width="0.6"/>
<text x="499.60" y="274.00" font-size="6.4" text-anchor="end" fill="#333" font-weight="normal">10</text>
<line x1="502.80" y1="296.40" x2="505.40" y2="296.40" stroke="#9a9a9a" stroke-width="0.6"/>
<text x="499.60" y="298.60" font-size="6.4" text-anchor="end" fill="#333" font-weight="normal">5</text>
<line x1="502.80" y1="320.50" x2="505.40" y2="320.50" stroke="#9a9a9a" stroke-width="0.6"/>
<text x="499.60" y="322.70" font-size="6.4" text-anchor="end" fill="#333" font-weight="normal">0</text>
<line x1="518.70" y1="320.50" x2="518.70" y2="323.90" stroke="#666" stroke-width="0.6"/>
<text transform="translate(522.50 330.30) rotate(-45)" font-size="6.8" text-anchor="end" fill="#161616"><tspan x="0" y="0">RISP</tspan><tspan x="0" y="7.4">WT</tspan></text>
<line x1="538.45" y1="320.50" x2="538.45" y2="323.90" stroke="#666" stroke-width="0.6"/>
<text transform="translate(542.25 330.30) rotate(-45)" font-size="6.8" text-anchor="end" fill="#161616"><tspan x="0" y="0">RISP</tspan><tspan x="0" y="7.4">KO</tspan></text>
<line x1="557.75" y1="320.50" x2="557.75" y2="323.90" stroke="#666" stroke-width="0.6"/>
<text transform="translate(561.55 330.30) rotate(-45)" font-size="6.8" text-anchor="end" fill="#161616"><tspan x="0" y="0">RISP</tspan><tspan x="0" y="7.4">KO + AOX</tspan></text>
<circle cx="514.41" cy="315.23" r="1.60" fill="#111"/>
<circle cx="517.48" cy="315.01" r="1.60" fill="#111"/>
<circle cx="520.55" cy="315.01" r="1.60" fill="#111"/>
<circle cx="523.62" cy="315.23" r="1.60" fill="#111"/>
<rect x="536.80" y="239.99" width="3.04" height="3.04" fill="#111"/>
<rect x="536.80" y="253.16" width="3.04" height="3.04" fill="#111"/>
<rect x="536.80" y="264.13" width="3.04" height="3.04" fill="#111"/>
<rect x="536.80" y="275.75" width="3.04" height="3.04" fill="#111"/>
<rect x="536.80" y="287.38" width="3.04" height="3.04" fill="#111"/>
<path d="M552.80 297.17 L554.40 300.05 L551.20 300.05 Z" fill="#111"/>
<path d="M556.53 299.37 L558.13 302.25 L554.93 302.25 Z" fill="#111"/>
<path d="M559.39 299.37 L560.99 302.25 L557.79 302.25 Z" fill="#111"/>
<path d="M562.46 299.37 L564.06 302.25 L560.86 302.25 Z" fill="#111"/>
<path d="M558.07 304.19 L559.67 307.07 L556.47 307.07 Z" fill="#111"/>
<line x1="518.60" y1="229.40" x2="536.10" y2="229.40" stroke="#8a8a8a" stroke-width="0.6"/>
<text x="527.60" y="232.40" font-size="12.5" text-anchor="middle" fill="#161616" font-weight="normal">*</text>
<line x1="539.60" y1="229.40" x2="557.60" y2="229.40" stroke="#8a8a8a" stroke-width="0.6"/>
<text x="548.90" y="232.40" font-size="12.5" text-anchor="middle" fill="#161616" font-weight="normal">*</text>
<text x="482.20" y="271.80" font-size="7.5" text-anchor="middle" fill="#161616" font-weight="normal" transform="rotate(-90 482.20 271.80)">gMFI PD-1</text>
<text x="489.60" y="271.80" font-size="7.5" text-anchor="middle" fill="#161616" font-weight="normal" transform="rotate(-90 489.60 271.80)">normalized to WT</text>
<text x="649.00" y="206.40" font-size="8.3" text-anchor="middle" fill="#161616" font-weight="normal">TIM3</text>
<rect x="626.90" y="314.60" width="12.30" height="5.90" fill="#5f5f5f" stroke="#262626" stroke-width="0.9"/>
<rect x="646.20" y="280.10" width="12.50" height="40.40" fill="#D9D9D9" stroke="#262626" stroke-width="0.9"/>
<rect x="665.90" y="306.20" width="12.10" height="14.30" fill="#9a9a9a" stroke="#262626" stroke-width="0.9"/>
<line x1="652.40" y1="268.50" x2="652.40" y2="291.50" stroke="#3a3a3a" stroke-width="0.6"/>
<line x1="648.55" y1="268.50" x2="656.25" y2="268.50" stroke="#3a3a3a" stroke-width="0.6"/>
<line x1="648.55" y1="291.50" x2="656.25" y2="291.50" stroke="#3a3a3a" stroke-width="0.6"/>
<line x1="672.00" y1="303.20" x2="672.00" y2="309.00" stroke="#3a3a3a" stroke-width="0.6"/>
<line x1="669.25" y1="303.20" x2="674.75" y2="303.20" stroke="#3a3a3a" stroke-width="0.6"/>
<line x1="669.25" y1="309.00" x2="674.75" y2="309.00" stroke="#3a3a3a" stroke-width="0.6"/>
<line x1="619.40" y1="223.10" x2="619.40" y2="320.50" stroke="#9a9a9a" stroke-width="0.6"/>
<line x1="619.10" y1="320.50" x2="683.50" y2="320.50" stroke="#2a2a2a" stroke-width="1.0"/>
<line x1="616.80" y1="223.10" x2="619.40" y2="223.10" stroke="#9a9a9a" stroke-width="0.6"/>
<text x="614.40" y="225.30" font-size="6.4" text-anchor="end" fill="#333" font-weight="normal">15</text>
<line x1="616.80" y1="255.30" x2="619.40" y2="255.30" stroke="#9a9a9a" stroke-width="0.6"/>
<text x="614.40" y="257.50" font-size="6.4" text-anchor="end" fill="#333" font-weight="normal">10</text>
<line x1="616.80" y1="287.80" x2="619.40" y2="287.80" stroke="#9a9a9a" stroke-width="0.6"/>
<text x="614.40" y="290.00" font-size="6.4" text-anchor="end" fill="#333" font-weight="normal">5</text>
<line x1="616.80" y1="320.50" x2="619.40" y2="320.50" stroke="#9a9a9a" stroke-width="0.6"/>
<text x="614.40" y="322.70" font-size="6.4" text-anchor="end" fill="#333" font-weight="normal">0</text>
<line x1="633.05" y1="320.50" x2="633.05" y2="323.90" stroke="#666" stroke-width="0.6"/>
<text transform="translate(636.85 330.30) rotate(-45)" font-size="6.8" text-anchor="end" fill="#161616"><tspan x="0" y="0">RISP</tspan><tspan x="0" y="7.4">WT</tspan></text>
<line x1="652.45" y1="320.50" x2="652.45" y2="323.90" stroke="#666" stroke-width="0.6"/>
<text transform="translate(656.25 330.30) rotate(-45)" font-size="6.8" text-anchor="end" fill="#161616"><tspan x="0" y="0">RISP</tspan><tspan x="0" y="7.4">KO</tspan></text>
<line x1="671.95" y1="320.50" x2="671.95" y2="323.90" stroke="#666" stroke-width="0.6"/>
<text transform="translate(675.75 330.30) rotate(-45)" font-size="6.8" text-anchor="end" fill="#161616"><tspan x="0" y="0">RISP</tspan><tspan x="0" y="7.4">KO + AOX</tspan></text>
<circle cx="628.62" cy="314.13" r="1.60" fill="#111"/>
<circle cx="631.48" cy="314.13" r="1.60" fill="#111"/>
<circle cx="634.55" cy="314.13" r="1.60" fill="#111"/>
<circle cx="637.40" cy="314.13" r="1.60" fill="#111"/>
<rect x="650.80" y="234.51" width="3.04" height="3.04" fill="#111"/>
<rect x="650.80" y="280.80" width="3.04" height="3.04" fill="#111"/>
<rect x="647.95" y="288.92" width="3.04" height="3.04" fill="#111"/>
<rect x="653.43" y="291.55" width="3.04" height="3.04" fill="#111"/>
<rect x="650.80" y="294.84" width="3.04" height="3.04" fill="#111"/>
<path d="M671.85 298.71 L673.45 301.59 L670.25 301.59 Z" fill="#111"/>
<path d="M671.85 302.44 L673.45 305.32 L670.25 305.32 Z" fill="#111"/>
<path d="M669.21 305.29 L670.81 308.17 L667.61 308.17 Z" fill="#111"/>
<path d="M674.70 305.29 L676.30 308.17 L673.10 308.17 Z" fill="#111"/>
<path d="M671.85 309.02 L673.45 311.90 L670.25 311.90 Z" fill="#111"/>
<line x1="633.00" y1="224.00" x2="652.80" y2="224.00" stroke="#8a8a8a" stroke-width="0.6"/>
<text x="641.30" y="226.40" font-size="12.5" text-anchor="middle" fill="#161616" font-weight="normal">*</text>
<text x="595.10" y="271.80" font-size="7.5" text-anchor="middle" fill="#161616" font-weight="normal" transform="rotate(-90 595.10 271.80)">gMFI TIM3</text>
<text x="602.60" y="271.80" font-size="7.5" text-anchor="middle" fill="#161616" font-weight="normal" transform="rotate(-90 602.60 271.80)">normalized to WT</text>
<text x="428.10" y="373.00" font-size="8.3" text-anchor="middle" fill="#161616" font-weight="normal">TCF1</text>
<rect x="404.40" y="413.60" width="12.50" height="64.70" fill="#5f5f5f" stroke="#262626" stroke-width="0.9"/>
<rect x="423.70" y="461.20" width="12.50" height="17.10" fill="#D9D9D9" stroke="#262626" stroke-width="0.9"/>
<rect x="443.50" y="431.20" width="12.50" height="47.10" fill="#9a9a9a" stroke="#262626" stroke-width="0.9"/>
<line x1="430.00" y1="458.60" x2="430.00" y2="464.00" stroke="#3a3a3a" stroke-width="0.6"/>
<line x1="427.25" y1="458.60" x2="432.75" y2="458.60" stroke="#3a3a3a" stroke-width="0.6"/>
<line x1="427.25" y1="464.00" x2="432.75" y2="464.00" stroke="#3a3a3a" stroke-width="0.6"/>
<line x1="449.80" y1="427.20" x2="449.80" y2="435.10" stroke="#3a3a3a" stroke-width="0.6"/>
<line x1="446.50" y1="427.20" x2="453.10" y2="427.20" stroke="#3a3a3a" stroke-width="0.6"/>
<line x1="446.50" y1="435.10" x2="453.10" y2="435.10" stroke="#3a3a3a" stroke-width="0.6"/>
<line x1="397.40" y1="380.70" x2="397.40" y2="478.30" stroke="#9a9a9a" stroke-width="0.6"/>
<line x1="397.10" y1="478.30" x2="462.10" y2="478.30" stroke="#2a2a2a" stroke-width="1.0"/>
<line x1="394.80" y1="380.70" x2="397.40" y2="380.70" stroke="#9a9a9a" stroke-width="0.6"/>
<text x="390.40" y="382.90" font-size="6.4" text-anchor="end" fill="#333" font-weight="normal">1.5</text>
<line x1="394.80" y1="413.20" x2="397.40" y2="413.20" stroke="#9a9a9a" stroke-width="0.6"/>
<text x="390.40" y="415.40" font-size="6.4" text-anchor="end" fill="#333" font-weight="normal">1.0</text>
<line x1="394.80" y1="445.90" x2="397.40" y2="445.90" stroke="#9a9a9a" stroke-width="0.6"/>
<text x="390.40" y="448.10" font-size="6.4" text-anchor="end" fill="#333" font-weight="normal">0.5</text>
<line x1="394.80" y1="478.30" x2="397.40" y2="478.30" stroke="#9a9a9a" stroke-width="0.6"/>
<text x="390.40" y="480.50" font-size="6.4" text-anchor="end" fill="#333" font-weight="normal">0</text>
<line x1="410.65" y1="478.30" x2="410.65" y2="481.70" stroke="#666" stroke-width="0.6"/>
<text transform="translate(414.45 488.10) rotate(-45)" font-size="6.8" text-anchor="end" fill="#161616"><tspan x="0" y="0">RISP</tspan><tspan x="0" y="7.4">WT</tspan></text>
<line x1="429.95" y1="478.30" x2="429.95" y2="481.70" stroke="#666" stroke-width="0.6"/>
<text transform="translate(433.75 488.10) rotate(-45)" font-size="6.8" text-anchor="end" fill="#161616"><tspan x="0" y="0">RISP</tspan><tspan x="0" y="7.4">KO</tspan></text>
<line x1="449.75" y1="478.30" x2="449.75" y2="481.70" stroke="#666" stroke-width="0.6"/>
<text transform="translate(453.55 488.10) rotate(-45)" font-size="6.8" text-anchor="end" fill="#161616"><tspan x="0" y="0">RISP</tspan><tspan x="0" y="7.4">KO + AOX</tspan></text>
<circle cx="405.97" cy="414.28" r="1.60" fill="#111"/>
<circle cx="408.82" cy="413.19" r="1.60" fill="#111"/>
<circle cx="411.89" cy="413.19" r="1.60" fill="#111"/>
<circle cx="414.96" cy="413.62" r="1.60" fill="#111"/>
<rect x="425.95" y="455.33" width="3.04" height="3.04" fill="#111"/>
<rect x="431.43" y="455.98" width="3.04" height="3.04" fill="#111"/>
<rect x="425.95" y="460.37" width="3.04" height="3.04" fill="#111"/>
<rect x="430.99" y="460.37" width="3.04" height="3.04" fill="#111"/>
<rect x="428.58" y="465.20" width="3.04" height="3.04" fill="#111"/>
<path d="M446.55 421.90 L448.15 424.78 L444.95 424.78 Z" fill="#111"/>
<path d="M452.26 421.90 L453.86 424.78 L450.66 424.78 Z" fill="#111"/>
<path d="M449.41 430.67 L451.01 433.55 L447.81 433.55 Z" fill="#111"/>
<path d="M446.55 435.72 L448.15 438.60 L444.95 438.60 Z" fill="#111"/>
<path d="M452.26 435.72 L453.86 438.60 L450.66 438.60 Z" fill="#111"/>
<line x1="409.90" y1="387.30" x2="449.80" y2="387.30" stroke="#8a8a8a" stroke-width="0.6"/>
<text x="429.20" y="389.50" font-size="12.5" text-anchor="middle" fill="#161616" font-weight="normal">*</text>
<line x1="409.90" y1="405.30" x2="430.10" y2="405.30" stroke="#8a8a8a" stroke-width="0.6"/>
<text x="420.20" y="408.40" font-size="12.5" text-anchor="middle" fill="#161616" font-weight="normal">*</text>
<line x1="430.10" y1="415.20" x2="449.80" y2="415.20" stroke="#8a8a8a" stroke-width="0.6"/>
<text x="439.50" y="418.70" font-size="12.5" text-anchor="middle" fill="#161616" font-weight="normal">*</text>
<text x="368.50" y="430.00" font-size="7.5" text-anchor="middle" fill="#161616" font-weight="normal" transform="rotate(-90 368.50 430.00)">gMFI TCF1</text>
<text x="376.20" y="430.00" font-size="7.5" text-anchor="middle" fill="#161616" font-weight="normal" transform="rotate(-90 376.20 430.00)">normalized to WT</text>
<text x="542.90" y="373.00" font-size="8.3" text-anchor="middle" fill="#161616" font-weight="normal">GzmB</text>
<rect x="518.60" y="465.60" width="12.00" height="12.10" fill="#5f5f5f" stroke="#262626" stroke-width="0.9"/>
<rect x="537.90" y="436.70" width="12.10" height="41.00" fill="#D9D9D9" stroke="#262626" stroke-width="0.9"/>
<rect x="557.20" y="463.00" width="12.50" height="14.70" fill="#9a9a9a" stroke="#262626" stroke-width="0.9"/>
<line x1="544.00" y1="426.80" x2="544.00" y2="445.90" stroke="#3a3a3a" stroke-width="0.6"/>
<line x1="540.70" y1="426.80" x2="547.30" y2="426.80" stroke="#3a3a3a" stroke-width="0.6"/>
<line x1="540.70" y1="445.90" x2="547.30" y2="445.90" stroke="#3a3a3a" stroke-width="0.6"/>
<line x1="563.40" y1="461.60" x2="563.40" y2="464.20" stroke="#3a3a3a" stroke-width="0.6"/>
<line x1="560.90" y1="461.60" x2="565.90" y2="461.60" stroke="#3a3a3a" stroke-width="0.6"/>
<line x1="560.90" y1="464.20" x2="565.90" y2="464.20" stroke="#3a3a3a" stroke-width="0.6"/>
<line x1="511.60" y1="380.10" x2="511.60" y2="477.70" stroke="#9a9a9a" stroke-width="0.6"/>
<line x1="511.30" y1="477.70" x2="575.80" y2="477.70" stroke="#2a2a2a" stroke-width="1.0"/>
<line x1="509.00" y1="380.10" x2="511.60" y2="380.10" stroke="#9a9a9a" stroke-width="0.6"/>
<text x="505.20" y="382.30" font-size="6.4" text-anchor="end" fill="#333" font-weight="normal">8</text>
<line x1="509.00" y1="404.40" x2="511.60" y2="404.40" stroke="#9a9a9a" stroke-width="0.6"/>
<text x="505.20" y="406.60" font-size="6.4" text-anchor="end" fill="#333" font-weight="normal">6</text>
<line x1="509.00" y1="429.00" x2="511.60" y2="429.00" stroke="#9a9a9a" stroke-width="0.6"/>
<text x="505.20" y="431.20" font-size="6.4" text-anchor="end" fill="#333" font-weight="normal">4</text>
<line x1="509.00" y1="453.30" x2="511.60" y2="453.30" stroke="#9a9a9a" stroke-width="0.6"/>
<text x="505.20" y="455.50" font-size="6.4" text-anchor="end" fill="#333" font-weight="normal">2</text>
<line x1="509.00" y1="477.70" x2="511.60" y2="477.70" stroke="#9a9a9a" stroke-width="0.6"/>
<text x="505.20" y="479.90" font-size="6.4" text-anchor="end" fill="#333" font-weight="normal">0</text>
<line x1="524.60" y1="477.70" x2="524.60" y2="481.10" stroke="#666" stroke-width="0.6"/>
<text transform="translate(528.40 487.50) rotate(-45)" font-size="6.8" text-anchor="end" fill="#161616"><tspan x="0" y="0">RISP</tspan><tspan x="0" y="7.4">WT</tspan></text>
<line x1="543.95" y1="477.70" x2="543.95" y2="481.10" stroke="#666" stroke-width="0.6"/>
<text transform="translate(547.75 487.50) rotate(-45)" font-size="6.8" text-anchor="end" fill="#161616"><tspan x="0" y="0">RISP</tspan><tspan x="0" y="7.4">KO</tspan></text>
<line x1="563.45" y1="477.70" x2="563.45" y2="481.10" stroke="#666" stroke-width="0.6"/>
<text transform="translate(567.25 487.50) rotate(-45)" font-size="6.8" text-anchor="end" fill="#161616"><tspan x="0" y="0">RISP</tspan><tspan x="0" y="7.4">KO + AOX</tspan></text>
<circle cx="520.33" cy="465.18" r="1.60" fill="#111"/>
<circle cx="523.19" cy="465.18" r="1.60" fill="#111"/>
<circle cx="526.26" cy="465.18" r="1.60" fill="#111"/>
<circle cx="529.11" cy="465.18" r="1.60" fill="#111"/>
<rect x="542.29" y="400.04" width="3.04" height="3.04" fill="#111"/>
<rect x="542.29" y="429.22" width="3.04" height="3.04" fill="#111"/>
<rect x="539.66" y="448.96" width="3.04" height="3.04" fill="#111"/>
<rect x="545.14" y="448.96" width="3.04" height="3.04" fill="#111"/>
<rect x="542.29" y="445.01" width="3.04" height="3.04" fill="#111"/>
<path d="M563.12 457.44 L564.72 460.32 L561.52 460.32 Z" fill="#111"/>
<path d="M558.73 460.95 L560.33 463.83 L557.13 463.83 Z" fill="#111"/>
<path d="M561.58 460.95 L563.18 463.83 L559.98 463.83 Z" fill="#111"/>
<path d="M564.87 460.95 L566.47 463.83 L563.27 463.83 Z" fill="#111"/>
<path d="M567.94 460.95 L569.54 463.83 L566.34 463.83 Z" fill="#111"/>
<line x1="524.10" y1="390.10" x2="541.60" y2="390.10" stroke="#8a8a8a" stroke-width="0.6"/>
<text x="533.10" y="391.30" font-size="12.5" text-anchor="middle" fill="#161616" font-weight="normal">*</text>
<line x1="545.60" y1="390.10" x2="563.60" y2="390.10" stroke="#8a8a8a" stroke-width="0.6"/>
<text x="554.30" y="391.30" font-size="12.5" text-anchor="middle" fill="#161616" font-weight="normal">*</text>
<text x="485.90" y="431.50" font-size="7.5" text-anchor="middle" fill="#161616" font-weight="normal" transform="rotate(-90 485.90 431.50)">gMFI Gzmb</text>
<text x="493.60" y="431.50" font-size="7.5" text-anchor="middle" fill="#161616" font-weight="normal" transform="rotate(-90 493.60 431.50)">normalized to WT</text>
<rect x="625.80" y="397.20" width="12.30" height="81.80" fill="#5f5f5f" stroke="#262626" stroke-width="0.9"/>
<rect x="645.10" y="461.50" width="12.00" height="17.50" fill="#D9D9D9" stroke="#262626" stroke-width="0.9"/>
<rect x="664.40" y="447.20" width="12.50" height="31.80" fill="#9a9a9a" stroke="#262626" stroke-width="0.9"/>
<line x1="651.10" y1="457.50" x2="651.10" y2="465.60" stroke="#3a3a3a" stroke-width="0.6"/>
<line x1="648.35" y1="457.50" x2="653.85" y2="457.50" stroke="#3a3a3a" stroke-width="0.6"/>
<line x1="648.35" y1="465.60" x2="653.85" y2="465.60" stroke="#3a3a3a" stroke-width="0.6"/>
<line x1="670.70" y1="443.20" x2="670.70" y2="451.40" stroke="#3a3a3a" stroke-width="0.6"/>
<line x1="667.40" y1="443.20" x2="674.00" y2="443.20" stroke="#3a3a3a" stroke-width="0.6"/>
<line x1="667.40" y1="451.40" x2="674.00" y2="451.40" stroke="#3a3a3a" stroke-width="0.6"/>
<line x1="618.80" y1="381.80" x2="618.80" y2="479.00" stroke="#9a9a9a" stroke-width="0.6"/>
<line x1="618.50" y1="479.00" x2="683.50" y2="479.00" stroke="#2a2a2a" stroke-width="1.0"/>
<line x1="616.20" y1="381.80" x2="618.80" y2="381.80" stroke="#9a9a9a" stroke-width="0.6"/>
<text x="613.00" y="384.00" font-size="6.4" text-anchor="end" fill="#333" font-weight="normal">100</text>
<line x1="616.20" y1="401.10" x2="618.80" y2="401.10" stroke="#9a9a9a" stroke-width="0.6"/>
<text x="613.00" y="403.30" font-size="6.4" text-anchor="end" fill="#333" font-weight="normal">80</text>
<line x1="616.20" y1="420.60" x2="618.80" y2="420.60" stroke="#9a9a9a" stroke-width="0.6"/>
<text x="613.00" y="422.80" font-size="6.4" text-anchor="end" fill="#333" font-weight="normal">60</text>
<line x1="616.20" y1="440.20" x2="618.80" y2="440.20" stroke="#9a9a9a" stroke-width="0.6"/>
<text x="613.00" y="442.40" font-size="6.4" text-anchor="end" fill="#333" font-weight="normal">40</text>
<line x1="616.20" y1="459.30" x2="618.80" y2="459.30" stroke="#9a9a9a" stroke-width="0.6"/>
<text x="613.00" y="461.50" font-size="6.4" text-anchor="end" fill="#333" font-weight="normal">20</text>
<line x1="616.20" y1="479.00" x2="618.80" y2="479.00" stroke="#9a9a9a" stroke-width="0.6"/>
<text x="613.00" y="481.20" font-size="6.4" text-anchor="end" fill="#333" font-weight="normal">0</text>
<line x1="631.95" y1="479.00" x2="631.95" y2="482.40" stroke="#666" stroke-width="0.6"/>
<text transform="translate(635.75 488.80) rotate(-45)" font-size="6.8" text-anchor="end" fill="#161616"><tspan x="0" y="0">RISP</tspan><tspan x="0" y="7.4">WT</tspan></text>
<line x1="651.10" y1="479.00" x2="651.10" y2="482.40" stroke="#666" stroke-width="0.6"/>
<text transform="translate(654.90 488.80) rotate(-45)" font-size="6.8" text-anchor="end" fill="#161616"><tspan x="0" y="0">RISP</tspan><tspan x="0" y="7.4">KO</tspan></text>
<line x1="670.65" y1="479.00" x2="670.65" y2="482.40" stroke="#666" stroke-width="0.6"/>
<text transform="translate(674.45 488.80) rotate(-45)" font-size="6.8" text-anchor="end" fill="#161616"><tspan x="0" y="0">RISP</tspan><tspan x="0" y="7.4">KO + AOX</tspan></text>
<circle cx="627.09" cy="398.27" r="1.60" fill="#111"/>
<circle cx="630.16" cy="396.07" r="1.60" fill="#111"/>
<circle cx="633.45" cy="397.17" r="1.60" fill="#111"/>
<circle cx="636.52" cy="396.07" r="1.60" fill="#111"/>
<rect x="646.41" y="451.60" width="3.04" height="3.04" fill="#111"/>
<rect x="652.33" y="452.69" width="3.04" height="3.04" fill="#111"/>
<rect x="646.41" y="460.81" width="3.04" height="3.04" fill="#111"/>
<rect x="652.33" y="460.81" width="3.04" height="3.04" fill="#111"/>
<rect x="649.48" y="469.15" width="3.04" height="3.04" fill="#111"/>
<path d="M665.92 440.55 L667.52 443.43 L664.32 443.43 Z" fill="#111"/>
<path d="M670.75 437.69 L672.35 440.57 L669.15 440.57 Z" fill="#111"/>
<path d="M675.36 440.55 L676.96 443.43 L673.76 443.43 Z" fill="#111"/>
<path d="M670.75 449.32 L672.35 452.20 L669.15 452.20 Z" fill="#111"/>
<path d="M670.75 456.56 L672.35 459.44 L669.15 459.44 Z" fill="#111"/>
<line x1="630.80" y1="375.70" x2="671.00" y2="375.70" stroke="#8a8a8a" stroke-width="0.6"/>
<text x="649.50" y="377.00" font-size="12.5" text-anchor="middle" fill="#161616" font-weight="normal">*</text>
<line x1="630.80" y1="390.60" x2="651.20" y2="390.60" stroke="#8a8a8a" stroke-width="0.6"/>
<text x="641.10" y="392.80" font-size="12.5" text-anchor="middle" fill="#161616" font-weight="normal">*</text>
<line x1="651.20" y1="410.30" x2="671.00" y2="410.30" stroke="#8a8a8a" stroke-width="0.6"/>
<text x="660.90" y="412.80" font-size="12.5" text-anchor="middle" fill="#161616" font-weight="normal">*</text>
<text x="598.0" y="427.4" font-size="7.4" text-anchor="middle" fill="#161616" transform="rotate(-90 598.0 427.4)">CD8a<tspan dy="-2.6" font-size="4.2">+</tspan><tspan dy="2.6">, %CD62L</tspan><tspan dy="-2.6" font-size="4.2">hi</tspan></text>
<text x="7.00" y="514.80" font-size="12" text-anchor="middle" fill="#000" font-weight="bold" stroke="#000" stroke-width="0.45">f</text>
<line x1="44.40" y1="515.30" x2="44.40" y2="673.10" stroke="#444" stroke-width="0.65"/>
<line x1="41.40" y1="515.30" x2="44.40" y2="515.30" stroke="#444" stroke-width="0.65"/>
<text x="38.20" y="517.60" font-size="6.6" text-anchor="end" fill="#333" font-weight="normal">800</text>
<line x1="41.40" y1="546.85" x2="44.40" y2="546.85" stroke="#444" stroke-width="0.65"/>
<text x="38.20" y="549.15" font-size="6.6" text-anchor="end" fill="#333" font-weight="normal">600</text>
<line x1="41.40" y1="578.40" x2="44.40" y2="578.40" stroke="#444" stroke-width="0.65"/>
<text x="38.20" y="580.70" font-size="6.6" text-anchor="end" fill="#333" font-weight="normal">400</text>
<line x1="41.40" y1="609.95" x2="44.40" y2="609.95" stroke="#444" stroke-width="0.65"/>
<text x="38.20" y="612.25" font-size="6.6" text-anchor="end" fill="#333" font-weight="normal">200</text>
<line x1="41.40" y1="641.50" x2="44.40" y2="641.50" stroke="#444" stroke-width="0.65"/>
<text x="38.20" y="643.80" font-size="6.6" text-anchor="end" fill="#333" font-weight="normal">0</text>
<line x1="41.40" y1="673.05" x2="44.40" y2="673.05" stroke="#444" stroke-width="0.65"/>
<text x="38.20" y="675.35" font-size="6.6" text-anchor="end" fill="#333" font-weight="normal">−200</text>
<line x1="44.40" y1="641.50" x2="252.90" y2="641.50" stroke="#444" stroke-width="0.65"/>
<line x1="86.22" y1="641.50" x2="86.22" y2="644.60" stroke="#444" stroke-width="0.65"/>
<text x="86.22" y="653.50" font-size="6.6" text-anchor="middle" fill="#333" font-weight="normal">5</text>
<line x1="127.85" y1="641.50" x2="127.85" y2="644.60" stroke="#444" stroke-width="0.65"/>
<text x="127.85" y="653.50" font-size="6.6" text-anchor="middle" fill="#333" font-weight="normal">10</text>
<line x1="169.47" y1="641.50" x2="169.47" y2="644.60" stroke="#444" stroke-width="0.65"/>
<text x="169.47" y="653.50" font-size="6.6" text-anchor="middle" fill="#333" font-weight="normal">15</text>
<line x1="211.10" y1="641.50" x2="211.10" y2="644.60" stroke="#444" stroke-width="0.65"/>
<text x="211.10" y="653.50" font-size="6.6" text-anchor="middle" fill="#333" font-weight="normal">20</text>
<line x1="252.72" y1="641.50" x2="252.72" y2="644.60" stroke="#444" stroke-width="0.65"/>
<text x="252.72" y="653.50" font-size="6.6" text-anchor="middle" fill="#333" font-weight="normal">25</text>
<text x="149.00" y="664.90" font-size="7.7" text-anchor="middle" fill="#161616" font-weight="normal">Days post-tumor administration</text>
<text x="18.2" y="593.4" font-size="7.8" text-anchor="middle" fill="#161616" transform="rotate(-90 18.2 593.4)">Tumor volume (mm<tspan dy="-2.6" font-size="4.4">3</tspan><tspan dy="2.6">)</tspan></text>
<line x1="144.50" y1="620.40" x2="144.50" y2="629.00" stroke="#9a9a9a" stroke-width="0.6"/>
<line x1="141.30" y1="620.40" x2="147.70" y2="620.40" stroke="#9a9a9a" stroke-width="0.6"/>
<line x1="169.47" y1="618.20" x2="169.47" y2="634.00" stroke="#9a9a9a" stroke-width="0.6"/>
<line x1="166.28" y1="618.20" x2="172.67" y2="618.20" stroke="#9a9a9a" stroke-width="0.6"/>
<line x1="202.77" y1="572.30" x2="202.77" y2="641.30" stroke="#9a9a9a" stroke-width="0.6"/>
<line x1="199.57" y1="572.30" x2="205.97" y2="572.30" stroke="#9a9a9a" stroke-width="0.6"/>
<line x1="227.75" y1="532.10" x2="227.75" y2="641.30" stroke="#9a9a9a" stroke-width="0.6"/>
<line x1="224.55" y1="532.10" x2="230.95" y2="532.10" stroke="#9a9a9a" stroke-width="0.6"/>
<line x1="199.57" y1="587.30" x2="205.97" y2="587.30" stroke="#9a9a9a" stroke-width="0.6"/>
<line x1="199.57" y1="626.80" x2="205.97" y2="626.80" stroke="#9a9a9a" stroke-width="0.6"/>
<line x1="224.55" y1="540.50" x2="230.95" y2="540.50" stroke="#9a9a9a" stroke-width="0.6"/>
<line x1="224.55" y1="612.40" x2="230.95" y2="612.40" stroke="#9a9a9a" stroke-width="0.6"/>
<line x1="166.28" y1="622.50" x2="172.67" y2="622.50" stroke="#9a9a9a" stroke-width="0.6"/>
<line x1="141.30" y1="632.00" x2="147.70" y2="632.00" stroke="#9a9a9a" stroke-width="0.6"/>
<line x1="166.28" y1="634.00" x2="172.67" y2="634.00" stroke="#9a9a9a" stroke-width="0.6"/>
<polyline fill="none" stroke="#5a5a5a" stroke-width="1.0" points="86.22,636.50 111.20,631.70 144.50,628.50 169.47,630.00 202.77,606.90 227.75,577.10"/>
<path d="M86.22 632.90 L89.72 639.10 L82.72 639.10 Z" fill="#6e6e6e"/>
<path d="M111.20 628.10 L114.70 634.30 L107.70 634.30 Z" fill="#6e6e6e"/>
<path d="M144.50 624.90 L148.00 631.10 L141.00 631.10 Z" fill="#6e6e6e"/>
<path d="M169.47 626.40 L172.97 632.60 L165.97 632.60 Z" fill="#6e6e6e"/>
<path d="M202.77 603.30 L206.27 609.50 L199.27 609.50 Z" fill="#6e6e6e"/>
<path d="M227.75 573.50 L231.25 579.70 L224.25 579.70 Z" fill="#6e6e6e"/>
<polyline fill="none" stroke="#4a4a4a" stroke-width="1.0" points="86.22,635.20 111.20,629.40 144.50,625.20 169.47,626.50 202.77,606.90 227.75,586.70"/>
<rect x="82.92" y="631.90" width="6.60" height="6.60" fill="#d4d4d4" stroke="#555" stroke-width="0.7"/>
<rect x="107.90" y="626.10" width="6.60" height="6.60" fill="#d4d4d4" stroke="#555" stroke-width="0.7"/>
<rect x="141.20" y="621.90" width="6.60" height="6.60" fill="#d4d4d4" stroke="#555" stroke-width="0.7"/>
<rect x="166.17" y="623.20" width="6.60" height="6.60" fill="#d4d4d4" stroke="#555" stroke-width="0.7"/>
<rect x="199.47" y="603.60" width="6.60" height="6.60" fill="#d4d4d4" stroke="#555" stroke-width="0.7"/>
<rect x="224.45" y="583.40" width="6.60" height="6.60" fill="#d4d4d4" stroke="#555" stroke-width="0.7"/>
<polyline fill="none" stroke="#111" stroke-width="1.1" points="86.22,637.40 111.20,633.60 144.50,636.50 169.47,639.70 202.77,641.30 227.75,641.30"/>
<circle cx="86.22" cy="637.40" r="3.1" fill="#080808"/>
<circle cx="111.20" cy="633.60" r="3.1" fill="#080808"/>
<circle cx="144.50" cy="636.50" r="3.1" fill="#080808"/>
<circle cx="169.47" cy="639.70" r="3.1" fill="#080808"/>
<circle cx="202.77" cy="641.30" r="3.1" fill="#080808"/>
<circle cx="227.75" cy="641.30" r="3.1" fill="#080808"/>
<line x1="59.00" y1="680.60" x2="70.20" y2="680.60" stroke="#111" stroke-width="0.8"/>
<circle cx="64.6" cy="680.6" r="3.1" fill="#080808"/>
<text x="73.60" y="682.50" font-size="5.45" text-anchor="start" fill="#161616" font-weight="normal">RISP WT</text>
<line x1="112.20" y1="680.60" x2="123.40" y2="680.60" stroke="#555" stroke-width="0.7"/>
<rect x="114.50" y="677.30" width="6.60" height="6.60" fill="#d4d4d4" stroke="#555" stroke-width="0.7"/>
<text x="126.90" y="682.50" font-size="5.45" text-anchor="start" fill="#161616" font-weight="normal">RISP KO</text>
<line x1="165.20" y1="680.60" x2="176.40" y2="680.60" stroke="#666" stroke-width="0.7"/>
<path d="M170.8 677.00 L174.3 683.20 L167.3 683.20 Z" fill="#6e6e6e"/>
<text x="179.90" y="682.50" font-size="5.45" text-anchor="start" fill="#161616" font-weight="normal">RISP KO + AOX</text>
</svg>
</body></html>
